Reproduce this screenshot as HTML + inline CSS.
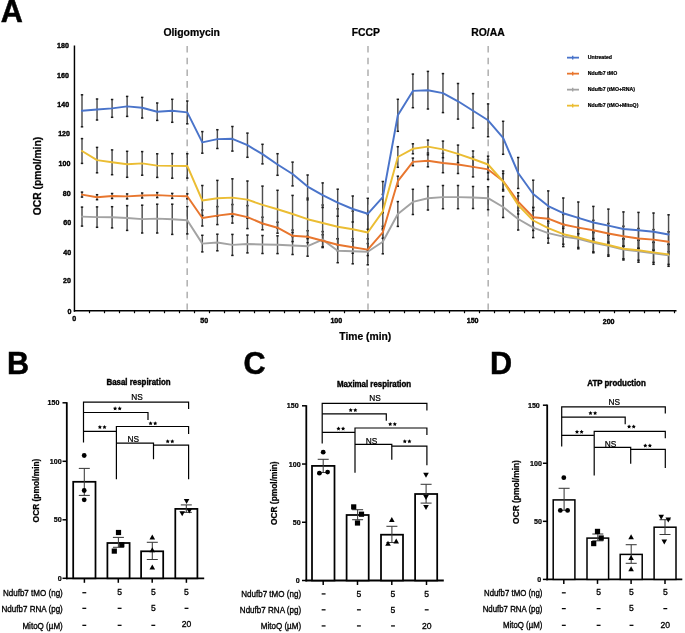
<!DOCTYPE html>
<html><head><meta charset="utf-8"><style>
html,body{margin:0;padding:0;background:#fff;}
svg{display:block;will-change:transform;}
text{font-family:"Liberation Sans", sans-serif;fill:#000;stroke:#000;stroke-width:0.22px;}
</style></head><body>
<svg width="685" height="633" viewBox="0 0 685 633">
<rect width="685" height="633" fill="#fff"/>
<text x="0.8" y="22.3" font-size="30.6" font-weight="bold" text-anchor="start" style="stroke-width:0.5px">A</text>
<line x1="74.45" y1="45.6" x2="74.45" y2="311.7" stroke="#000" stroke-width="1.45" />
<line x1="73.8" y1="310.8" x2="676.5" y2="310.8" stroke="#000" stroke-width="1.6" />
<line x1="89.5" y1="311" x2="89.5" y2="313.2" stroke="#000" stroke-width="1.2" />
<line x1="104.5" y1="311" x2="104.5" y2="313.2" stroke="#000" stroke-width="1.2" />
<line x1="119.5" y1="311" x2="119.5" y2="313.2" stroke="#000" stroke-width="1.2" />
<line x1="134.5" y1="311" x2="134.5" y2="313.2" stroke="#000" stroke-width="1.2" />
<line x1="149.5" y1="311" x2="149.5" y2="313.2" stroke="#000" stroke-width="1.2" />
<line x1="164.5" y1="311" x2="164.5" y2="313.2" stroke="#000" stroke-width="1.2" />
<line x1="179.5" y1="311" x2="179.5" y2="313.2" stroke="#000" stroke-width="1.2" />
<line x1="194.5" y1="311" x2="194.5" y2="313.2" stroke="#000" stroke-width="1.2" />
<line x1="209.5" y1="311" x2="209.5" y2="313.2" stroke="#000" stroke-width="1.2" />
<line x1="224.5" y1="311" x2="224.5" y2="313.2" stroke="#000" stroke-width="1.2" />
<line x1="239.5" y1="311" x2="239.5" y2="313.2" stroke="#000" stroke-width="1.2" />
<line x1="254.5" y1="311" x2="254.5" y2="313.2" stroke="#000" stroke-width="1.2" />
<line x1="269.5" y1="311" x2="269.5" y2="313.2" stroke="#000" stroke-width="1.2" />
<line x1="284.5" y1="311" x2="284.5" y2="313.2" stroke="#000" stroke-width="1.2" />
<line x1="299.5" y1="311" x2="299.5" y2="313.2" stroke="#000" stroke-width="1.2" />
<line x1="314.5" y1="311" x2="314.5" y2="313.2" stroke="#000" stroke-width="1.2" />
<line x1="329.5" y1="311" x2="329.5" y2="313.2" stroke="#000" stroke-width="1.2" />
<line x1="344.5" y1="311" x2="344.5" y2="313.2" stroke="#000" stroke-width="1.2" />
<line x1="359.5" y1="311" x2="359.5" y2="313.2" stroke="#000" stroke-width="1.2" />
<line x1="374.5" y1="311" x2="374.5" y2="313.2" stroke="#000" stroke-width="1.2" />
<line x1="389.5" y1="311" x2="389.5" y2="313.2" stroke="#000" stroke-width="1.2" />
<line x1="404.5" y1="311" x2="404.5" y2="313.2" stroke="#000" stroke-width="1.2" />
<line x1="419.5" y1="311" x2="419.5" y2="313.2" stroke="#000" stroke-width="1.2" />
<line x1="434.5" y1="311" x2="434.5" y2="313.2" stroke="#000" stroke-width="1.2" />
<line x1="449.5" y1="311" x2="449.5" y2="313.2" stroke="#000" stroke-width="1.2" />
<line x1="464.5" y1="311" x2="464.5" y2="313.2" stroke="#000" stroke-width="1.2" />
<line x1="479.5" y1="311" x2="479.5" y2="313.2" stroke="#000" stroke-width="1.2" />
<line x1="494.5" y1="311" x2="494.5" y2="313.2" stroke="#000" stroke-width="1.2" />
<line x1="509.5" y1="311" x2="509.5" y2="313.2" stroke="#000" stroke-width="1.2" />
<line x1="524.5" y1="311" x2="524.5" y2="313.2" stroke="#000" stroke-width="1.2" />
<line x1="539.5" y1="311" x2="539.5" y2="313.2" stroke="#000" stroke-width="1.2" />
<line x1="554.5" y1="311" x2="554.5" y2="313.2" stroke="#000" stroke-width="1.2" />
<line x1="569.5" y1="311" x2="569.5" y2="313.2" stroke="#000" stroke-width="1.2" />
<line x1="584.5" y1="311" x2="584.5" y2="313.2" stroke="#000" stroke-width="1.2" />
<line x1="599.5" y1="311" x2="599.5" y2="313.2" stroke="#000" stroke-width="1.2" />
<line x1="614.5" y1="311" x2="614.5" y2="313.2" stroke="#000" stroke-width="1.2" />
<line x1="629.5" y1="311" x2="629.5" y2="313.2" stroke="#000" stroke-width="1.2" />
<line x1="644.5" y1="311" x2="644.5" y2="313.2" stroke="#000" stroke-width="1.2" />
<line x1="659.5" y1="311" x2="659.5" y2="313.2" stroke="#000" stroke-width="1.2" />
<line x1="674.5" y1="311" x2="674.5" y2="313.2" stroke="#000" stroke-width="1.2" />
<text x="0" y="0" font-size="7.1" font-weight="bold" text-anchor="end" transform="translate(71.4,313.9) scale(1,1.12)" style="stroke-width:0.38px">0</text>
<text x="0" y="0" font-size="7.1" font-weight="bold" text-anchor="end" transform="translate(71.0,283.25) scale(1,1.12)" style="stroke-width:0.38px">20</text>
<text x="0" y="0" font-size="7.1" font-weight="bold" text-anchor="end" transform="translate(71.1,254.55) scale(1,1.12)" style="stroke-width:0.38px">40</text>
<text x="0" y="0" font-size="7.1" font-weight="bold" text-anchor="end" transform="translate(71.1,224.95) scale(1,1.12)" style="stroke-width:0.38px">60</text>
<text x="0" y="0" font-size="7.1" font-weight="bold" text-anchor="end" transform="translate(70.7,195.95) scale(1,1.12)" style="stroke-width:0.38px">80</text>
<text x="0" y="0" font-size="7.1" font-weight="bold" text-anchor="end" transform="translate(70.4,166.25) scale(1,1.12)" style="stroke-width:0.38px">100</text>
<text x="0" y="0" font-size="7.1" font-weight="bold" text-anchor="end" transform="translate(70.0,136.35) scale(1,1.12)" style="stroke-width:0.38px">120</text>
<text x="0" y="0" font-size="7.1" font-weight="bold" text-anchor="end" transform="translate(69.1,107.15) scale(1,1.12)" style="stroke-width:0.38px">140</text>
<text x="0" y="0" font-size="7.1" font-weight="bold" text-anchor="end" transform="translate(68.9,77.95) scale(1,1.12)" style="stroke-width:0.38px">160</text>
<text x="0" y="0" font-size="7.1" font-weight="bold" text-anchor="end" transform="translate(68.9,48.15) scale(1,1.12)" style="stroke-width:0.38px">180</text>
<text x="0" y="0" font-size="7.1" font-weight="bold" text-anchor="middle" transform="translate(74.1,321.3) scale(1,1.12)" style="stroke-width:0.38px">0</text>
<text x="0" y="0" font-size="7.1" font-weight="bold" text-anchor="middle" transform="translate(204.3,323.4) scale(1,1.12)" style="stroke-width:0.38px">50</text>
<text x="0" y="0" font-size="7.1" font-weight="bold" text-anchor="middle" transform="translate(336.3,323.4) scale(1,1.12)" style="stroke-width:0.38px">100</text>
<text x="0" y="0" font-size="7.1" font-weight="bold" text-anchor="middle" transform="translate(472.6,323.4) scale(1,1.12)" style="stroke-width:0.38px">150</text>
<text x="0" y="0" font-size="7.1" font-weight="bold" text-anchor="middle" transform="translate(608.6,323.55) scale(1,1.12)" style="stroke-width:0.38px">200</text>
<text x="365.3" y="340.4" font-size="10.3" font-weight="bold" text-anchor="middle" >Time (min)</text>
<text x="0" y="0" font-size="10.3" font-weight="bold" text-anchor="middle" transform="translate(40.9,176) rotate(-90)">OCR (pmol/min)</text>
<line x1="187.2" y1="46" x2="187.2" y2="309.8" stroke="#b4b4b4" stroke-width="1.6" stroke-dasharray="6.6,5.1"/>
<line x1="368" y1="46" x2="368" y2="309.8" stroke="#b4b4b4" stroke-width="1.6" stroke-dasharray="6.6,5.1"/>
<line x1="488.2" y1="46" x2="488.2" y2="309.8" stroke="#b4b4b4" stroke-width="1.6" stroke-dasharray="6.6,5.1"/>
<text x="191.7" y="36" font-size="10.4" font-weight="bold" text-anchor="middle" >Oligomycin</text>
<text x="365.9" y="36" font-size="10.4" font-weight="bold" text-anchor="middle" >FCCP</text>
<text x="488" y="36" font-size="10.4" font-weight="bold" text-anchor="middle" >RO/AA</text>
<line x1="82.0" y1="207.1" x2="82.0" y2="226.1" stroke="#4e4e4e" stroke-width="1.45" />
<line x1="80.8" y1="207.1" x2="83.2" y2="207.1" stroke="#1a1a1a" stroke-width="1.5" />
<line x1="80.8" y1="226.1" x2="83.2" y2="226.1" stroke="#1a1a1a" stroke-width="1.5" />
<line x1="97.04" y1="206.9" x2="97.04" y2="227.3" stroke="#4e4e4e" stroke-width="1.45" />
<line x1="95.84" y1="206.9" x2="98.24" y2="206.9" stroke="#1a1a1a" stroke-width="1.5" />
<line x1="95.84" y1="227.3" x2="98.24" y2="227.3" stroke="#1a1a1a" stroke-width="1.5" />
<line x1="112.08" y1="206.7" x2="112.08" y2="227.9" stroke="#4e4e4e" stroke-width="1.45" />
<line x1="110.88" y1="206.7" x2="113.28" y2="206.7" stroke="#1a1a1a" stroke-width="1.5" />
<line x1="110.88" y1="227.9" x2="113.28" y2="227.9" stroke="#1a1a1a" stroke-width="1.5" />
<line x1="127.12" y1="205.6" x2="127.12" y2="230.4" stroke="#4e4e4e" stroke-width="1.45" />
<line x1="125.92" y1="205.6" x2="128.32" y2="205.6" stroke="#1a1a1a" stroke-width="1.5" />
<line x1="125.92" y1="230.4" x2="128.32" y2="230.4" stroke="#1a1a1a" stroke-width="1.5" />
<line x1="142.16" y1="205.2" x2="142.16" y2="233.0" stroke="#4e4e4e" stroke-width="1.45" />
<line x1="140.96" y1="205.2" x2="143.36" y2="205.2" stroke="#1a1a1a" stroke-width="1.5" />
<line x1="140.96" y1="233.0" x2="143.36" y2="233.0" stroke="#1a1a1a" stroke-width="1.5" />
<line x1="157.2" y1="204.2" x2="157.2" y2="233.0" stroke="#4e4e4e" stroke-width="1.45" />
<line x1="156.0" y1="204.2" x2="158.4" y2="204.2" stroke="#1a1a1a" stroke-width="1.5" />
<line x1="156.0" y1="233.0" x2="158.4" y2="233.0" stroke="#1a1a1a" stroke-width="1.5" />
<line x1="172.24" y1="204.2" x2="172.24" y2="234.4" stroke="#4e4e4e" stroke-width="1.45" />
<line x1="171.04" y1="204.2" x2="173.44" y2="204.2" stroke="#1a1a1a" stroke-width="1.5" />
<line x1="171.04" y1="234.4" x2="173.44" y2="234.4" stroke="#1a1a1a" stroke-width="1.5" />
<line x1="187.28" y1="206.5" x2="187.28" y2="233.9" stroke="#4e4e4e" stroke-width="1.45" />
<line x1="186.08" y1="206.5" x2="188.48" y2="206.5" stroke="#1a1a1a" stroke-width="1.5" />
<line x1="186.08" y1="233.9" x2="188.48" y2="233.9" stroke="#1a1a1a" stroke-width="1.5" />
<line x1="202.32" y1="235.3" x2="202.32" y2="251.9" stroke="#4e4e4e" stroke-width="1.45" />
<line x1="201.12" y1="235.3" x2="203.52" y2="235.3" stroke="#1a1a1a" stroke-width="1.5" />
<line x1="201.12" y1="251.9" x2="203.52" y2="251.9" stroke="#1a1a1a" stroke-width="1.5" />
<line x1="217.36" y1="234.2" x2="217.36" y2="250.8" stroke="#4e4e4e" stroke-width="1.45" />
<line x1="216.16" y1="234.2" x2="218.56" y2="234.2" stroke="#1a1a1a" stroke-width="1.5" />
<line x1="216.16" y1="250.8" x2="218.56" y2="250.8" stroke="#1a1a1a" stroke-width="1.5" />
<line x1="232.4" y1="234.4" x2="232.4" y2="255.4" stroke="#4e4e4e" stroke-width="1.45" />
<line x1="231.2" y1="234.4" x2="233.6" y2="234.4" stroke="#1a1a1a" stroke-width="1.5" />
<line x1="231.2" y1="255.4" x2="233.6" y2="255.4" stroke="#1a1a1a" stroke-width="1.5" />
<line x1="247.44" y1="235.1" x2="247.44" y2="252.9" stroke="#4e4e4e" stroke-width="1.45" />
<line x1="246.24" y1="235.1" x2="248.64" y2="235.1" stroke="#1a1a1a" stroke-width="1.5" />
<line x1="246.24" y1="252.9" x2="248.64" y2="252.9" stroke="#1a1a1a" stroke-width="1.5" />
<line x1="262.48" y1="235.5" x2="262.48" y2="253.5" stroke="#4e4e4e" stroke-width="1.45" />
<line x1="261.28" y1="235.5" x2="263.68" y2="235.5" stroke="#1a1a1a" stroke-width="1.5" />
<line x1="261.28" y1="253.5" x2="263.68" y2="253.5" stroke="#1a1a1a" stroke-width="1.5" />
<line x1="277.52" y1="235.8" x2="277.52" y2="253.6" stroke="#4e4e4e" stroke-width="1.45" />
<line x1="276.32" y1="235.8" x2="278.72" y2="235.8" stroke="#1a1a1a" stroke-width="1.5" />
<line x1="276.32" y1="253.6" x2="278.72" y2="253.6" stroke="#1a1a1a" stroke-width="1.5" />
<line x1="292.56" y1="236.5" x2="292.56" y2="254.5" stroke="#4e4e4e" stroke-width="1.45" />
<line x1="291.36" y1="236.5" x2="293.76" y2="236.5" stroke="#1a1a1a" stroke-width="1.5" />
<line x1="291.36" y1="254.5" x2="293.76" y2="254.5" stroke="#1a1a1a" stroke-width="1.5" />
<line x1="307.6" y1="236.2" x2="307.6" y2="256.2" stroke="#4e4e4e" stroke-width="1.45" />
<line x1="306.4" y1="236.2" x2="308.8" y2="236.2" stroke="#1a1a1a" stroke-width="1.5" />
<line x1="306.4" y1="256.2" x2="308.8" y2="256.2" stroke="#1a1a1a" stroke-width="1.5" />
<line x1="322.64" y1="231.6" x2="322.64" y2="247.6" stroke="#4e4e4e" stroke-width="1.45" />
<line x1="321.44" y1="231.6" x2="323.84" y2="231.6" stroke="#1a1a1a" stroke-width="1.5" />
<line x1="321.44" y1="247.6" x2="323.84" y2="247.6" stroke="#1a1a1a" stroke-width="1.5" />
<line x1="337.68" y1="238.7" x2="337.68" y2="262.7" stroke="#4e4e4e" stroke-width="1.45" />
<line x1="336.48" y1="238.7" x2="338.88" y2="238.7" stroke="#1a1a1a" stroke-width="1.5" />
<line x1="336.48" y1="262.7" x2="338.88" y2="262.7" stroke="#1a1a1a" stroke-width="1.5" />
<line x1="352.72" y1="238.8" x2="352.72" y2="263.8" stroke="#4e4e4e" stroke-width="1.45" />
<line x1="351.52" y1="238.8" x2="353.92" y2="238.8" stroke="#1a1a1a" stroke-width="1.5" />
<line x1="351.52" y1="263.8" x2="353.92" y2="263.8" stroke="#1a1a1a" stroke-width="1.5" />
<line x1="367.76" y1="238.8" x2="367.76" y2="264.8" stroke="#4e4e4e" stroke-width="1.45" />
<line x1="366.56" y1="238.8" x2="368.96" y2="238.8" stroke="#1a1a1a" stroke-width="1.5" />
<line x1="366.56" y1="264.8" x2="368.96" y2="264.8" stroke="#1a1a1a" stroke-width="1.5" />
<line x1="382.8" y1="229.8" x2="382.8" y2="253.8" stroke="#4e4e4e" stroke-width="1.45" />
<line x1="381.6" y1="229.8" x2="384.0" y2="229.8" stroke="#1a1a1a" stroke-width="1.5" />
<line x1="381.6" y1="253.8" x2="384.0" y2="253.8" stroke="#1a1a1a" stroke-width="1.5" />
<line x1="397.84" y1="201.6" x2="397.84" y2="226.4" stroke="#4e4e4e" stroke-width="1.45" />
<line x1="396.64" y1="201.6" x2="399.04" y2="201.6" stroke="#1a1a1a" stroke-width="1.5" />
<line x1="396.64" y1="226.4" x2="399.04" y2="226.4" stroke="#1a1a1a" stroke-width="1.5" />
<line x1="412.88" y1="189.3" x2="412.88" y2="214.5" stroke="#4e4e4e" stroke-width="1.45" />
<line x1="411.68" y1="189.3" x2="414.08" y2="189.3" stroke="#1a1a1a" stroke-width="1.5" />
<line x1="411.68" y1="214.5" x2="414.08" y2="214.5" stroke="#1a1a1a" stroke-width="1.5" />
<line x1="427.92" y1="186.4" x2="427.92" y2="210.0" stroke="#4e4e4e" stroke-width="1.45" />
<line x1="426.72" y1="186.4" x2="429.12" y2="186.4" stroke="#1a1a1a" stroke-width="1.5" />
<line x1="426.72" y1="210.0" x2="429.12" y2="210.0" stroke="#1a1a1a" stroke-width="1.5" />
<line x1="442.96" y1="185.5" x2="442.96" y2="208.7" stroke="#4e4e4e" stroke-width="1.45" />
<line x1="441.76" y1="185.5" x2="444.16" y2="185.5" stroke="#1a1a1a" stroke-width="1.5" />
<line x1="441.76" y1="208.7" x2="444.16" y2="208.7" stroke="#1a1a1a" stroke-width="1.5" />
<line x1="458.0" y1="185.5" x2="458.0" y2="208.7" stroke="#4e4e4e" stroke-width="1.45" />
<line x1="456.8" y1="185.5" x2="459.2" y2="185.5" stroke="#1a1a1a" stroke-width="1.5" />
<line x1="456.8" y1="208.7" x2="459.2" y2="208.7" stroke="#1a1a1a" stroke-width="1.5" />
<line x1="473.04" y1="186.5" x2="473.04" y2="208.5" stroke="#4e4e4e" stroke-width="1.45" />
<line x1="471.84" y1="186.5" x2="474.24" y2="186.5" stroke="#1a1a1a" stroke-width="1.5" />
<line x1="471.84" y1="208.5" x2="474.24" y2="208.5" stroke="#1a1a1a" stroke-width="1.5" />
<line x1="488.08" y1="186.7" x2="488.08" y2="209.7" stroke="#4e4e4e" stroke-width="1.45" />
<line x1="486.88" y1="186.7" x2="489.28" y2="186.7" stroke="#1a1a1a" stroke-width="1.5" />
<line x1="486.88" y1="209.7" x2="489.28" y2="209.7" stroke="#1a1a1a" stroke-width="1.5" />
<line x1="503.12" y1="196.5" x2="503.12" y2="217.5" stroke="#4e4e4e" stroke-width="1.45" />
<line x1="501.92" y1="196.5" x2="504.32" y2="196.5" stroke="#1a1a1a" stroke-width="1.5" />
<line x1="501.92" y1="217.5" x2="504.32" y2="217.5" stroke="#1a1a1a" stroke-width="1.5" />
<line x1="518.16" y1="208" x2="518.16" y2="230" stroke="#4e4e4e" stroke-width="1.45" />
<line x1="516.96" y1="208" x2="519.36" y2="208" stroke="#1a1a1a" stroke-width="1.5" />
<line x1="516.96" y1="230" x2="519.36" y2="230" stroke="#1a1a1a" stroke-width="1.5" />
<line x1="533.2" y1="217.6" x2="533.2" y2="237.6" stroke="#4e4e4e" stroke-width="1.45" />
<line x1="532.0" y1="217.6" x2="534.4" y2="217.6" stroke="#1a1a1a" stroke-width="1.5" />
<line x1="532.0" y1="237.6" x2="534.4" y2="237.6" stroke="#1a1a1a" stroke-width="1.5" />
<line x1="548.24" y1="223.1" x2="548.24" y2="243.1" stroke="#4e4e4e" stroke-width="1.45" />
<line x1="547.04" y1="223.1" x2="549.44" y2="223.1" stroke="#1a1a1a" stroke-width="1.5" />
<line x1="547.04" y1="243.1" x2="549.44" y2="243.1" stroke="#1a1a1a" stroke-width="1.5" />
<line x1="563.28" y1="226.6" x2="563.28" y2="246.6" stroke="#4e4e4e" stroke-width="1.45" />
<line x1="562.08" y1="226.6" x2="564.48" y2="226.6" stroke="#1a1a1a" stroke-width="1.5" />
<line x1="562.08" y1="246.6" x2="564.48" y2="246.6" stroke="#1a1a1a" stroke-width="1.5" />
<line x1="578.32" y1="228.8" x2="578.32" y2="248.8" stroke="#4e4e4e" stroke-width="1.45" />
<line x1="577.12" y1="228.8" x2="579.52" y2="228.8" stroke="#1a1a1a" stroke-width="1.5" />
<line x1="577.12" y1="248.8" x2="579.52" y2="248.8" stroke="#1a1a1a" stroke-width="1.5" />
<line x1="593.36" y1="232.8" x2="593.36" y2="252.8" stroke="#4e4e4e" stroke-width="1.45" />
<line x1="592.16" y1="232.8" x2="594.56" y2="232.8" stroke="#1a1a1a" stroke-width="1.5" />
<line x1="592.16" y1="252.8" x2="594.56" y2="252.8" stroke="#1a1a1a" stroke-width="1.5" />
<line x1="608.4" y1="235.3" x2="608.4" y2="256.3" stroke="#4e4e4e" stroke-width="1.45" />
<line x1="607.2" y1="235.3" x2="609.6" y2="235.3" stroke="#1a1a1a" stroke-width="1.5" />
<line x1="607.2" y1="256.3" x2="609.6" y2="256.3" stroke="#1a1a1a" stroke-width="1.5" />
<line x1="623.44" y1="239.0" x2="623.44" y2="260.0" stroke="#4e4e4e" stroke-width="1.45" />
<line x1="622.24" y1="239.0" x2="624.64" y2="239.0" stroke="#1a1a1a" stroke-width="1.5" />
<line x1="622.24" y1="260.0" x2="624.64" y2="260.0" stroke="#1a1a1a" stroke-width="1.5" />
<line x1="638.48" y1="240.2" x2="638.48" y2="262.2" stroke="#4e4e4e" stroke-width="1.45" />
<line x1="637.28" y1="240.2" x2="639.68" y2="240.2" stroke="#1a1a1a" stroke-width="1.5" />
<line x1="637.28" y1="262.2" x2="639.68" y2="262.2" stroke="#1a1a1a" stroke-width="1.5" />
<line x1="653.52" y1="242.3" x2="653.52" y2="264.3" stroke="#4e4e4e" stroke-width="1.45" />
<line x1="652.32" y1="242.3" x2="654.72" y2="242.3" stroke="#1a1a1a" stroke-width="1.5" />
<line x1="652.32" y1="264.3" x2="654.72" y2="264.3" stroke="#1a1a1a" stroke-width="1.5" />
<line x1="668.56" y1="244.3" x2="668.56" y2="266.3" stroke="#4e4e4e" stroke-width="1.45" />
<line x1="667.36" y1="244.3" x2="669.76" y2="244.3" stroke="#1a1a1a" stroke-width="1.5" />
<line x1="667.36" y1="266.3" x2="669.76" y2="266.3" stroke="#1a1a1a" stroke-width="1.5" />
<line x1="82.0" y1="192.1" x2="82.0" y2="197.1" stroke="#4e4e4e" stroke-width="1.45" />
<line x1="80.8" y1="192.1" x2="83.2" y2="192.1" stroke="#1a1a1a" stroke-width="1.5" />
<line x1="80.8" y1="197.1" x2="83.2" y2="197.1" stroke="#1a1a1a" stroke-width="1.5" />
<line x1="97.04" y1="194.7" x2="97.04" y2="199.7" stroke="#4e4e4e" stroke-width="1.45" />
<line x1="95.84" y1="194.7" x2="98.24" y2="194.7" stroke="#1a1a1a" stroke-width="1.5" />
<line x1="95.84" y1="199.7" x2="98.24" y2="199.7" stroke="#1a1a1a" stroke-width="1.5" />
<line x1="112.08" y1="193.5" x2="112.08" y2="198.5" stroke="#4e4e4e" stroke-width="1.45" />
<line x1="110.88" y1="193.5" x2="113.28" y2="193.5" stroke="#1a1a1a" stroke-width="1.5" />
<line x1="110.88" y1="198.5" x2="113.28" y2="198.5" stroke="#1a1a1a" stroke-width="1.5" />
<line x1="127.12" y1="193.9" x2="127.12" y2="198.9" stroke="#4e4e4e" stroke-width="1.45" />
<line x1="125.92" y1="193.9" x2="128.32" y2="193.9" stroke="#1a1a1a" stroke-width="1.5" />
<line x1="125.92" y1="198.9" x2="128.32" y2="198.9" stroke="#1a1a1a" stroke-width="1.5" />
<line x1="142.16" y1="193.0" x2="142.16" y2="198.0" stroke="#4e4e4e" stroke-width="1.45" />
<line x1="140.96" y1="193.0" x2="143.36" y2="193.0" stroke="#1a1a1a" stroke-width="1.5" />
<line x1="140.96" y1="198.0" x2="143.36" y2="198.0" stroke="#1a1a1a" stroke-width="1.5" />
<line x1="157.2" y1="192.6" x2="157.2" y2="197.6" stroke="#4e4e4e" stroke-width="1.45" />
<line x1="156.0" y1="192.6" x2="158.4" y2="192.6" stroke="#1a1a1a" stroke-width="1.5" />
<line x1="156.0" y1="197.6" x2="158.4" y2="197.6" stroke="#1a1a1a" stroke-width="1.5" />
<line x1="172.24" y1="193.4" x2="172.24" y2="198.4" stroke="#4e4e4e" stroke-width="1.45" />
<line x1="171.04" y1="193.4" x2="173.44" y2="193.4" stroke="#1a1a1a" stroke-width="1.5" />
<line x1="171.04" y1="198.4" x2="173.44" y2="198.4" stroke="#1a1a1a" stroke-width="1.5" />
<line x1="187.28" y1="193.8" x2="187.28" y2="198.8" stroke="#4e4e4e" stroke-width="1.45" />
<line x1="186.08" y1="193.8" x2="188.48" y2="193.8" stroke="#1a1a1a" stroke-width="1.5" />
<line x1="186.08" y1="198.8" x2="188.48" y2="198.8" stroke="#1a1a1a" stroke-width="1.5" />
<line x1="202.32" y1="210" x2="202.32" y2="226" stroke="#4e4e4e" stroke-width="1.45" />
<line x1="201.12" y1="210" x2="203.52" y2="210" stroke="#1a1a1a" stroke-width="1.5" />
<line x1="201.12" y1="226" x2="203.52" y2="226" stroke="#1a1a1a" stroke-width="1.5" />
<line x1="217.36" y1="206.6" x2="217.36" y2="224.6" stroke="#4e4e4e" stroke-width="1.45" />
<line x1="216.16" y1="206.6" x2="218.56" y2="206.6" stroke="#1a1a1a" stroke-width="1.5" />
<line x1="216.16" y1="224.6" x2="218.56" y2="224.6" stroke="#1a1a1a" stroke-width="1.5" />
<line x1="232.4" y1="204.5" x2="232.4" y2="223.1" stroke="#4e4e4e" stroke-width="1.45" />
<line x1="231.2" y1="204.5" x2="233.6" y2="204.5" stroke="#1a1a1a" stroke-width="1.5" />
<line x1="231.2" y1="223.1" x2="233.6" y2="223.1" stroke="#1a1a1a" stroke-width="1.5" />
<line x1="247.44" y1="205.6" x2="247.44" y2="228.6" stroke="#4e4e4e" stroke-width="1.45" />
<line x1="246.24" y1="205.6" x2="248.64" y2="205.6" stroke="#1a1a1a" stroke-width="1.5" />
<line x1="246.24" y1="228.6" x2="248.64" y2="228.6" stroke="#1a1a1a" stroke-width="1.5" />
<line x1="262.48" y1="217.2" x2="262.48" y2="229.8" stroke="#4e4e4e" stroke-width="1.45" />
<line x1="261.28" y1="217.2" x2="263.68" y2="217.2" stroke="#1a1a1a" stroke-width="1.5" />
<line x1="261.28" y1="229.8" x2="263.68" y2="229.8" stroke="#1a1a1a" stroke-width="1.5" />
<line x1="277.52" y1="222.2" x2="277.52" y2="233.2" stroke="#4e4e4e" stroke-width="1.45" />
<line x1="276.32" y1="222.2" x2="278.72" y2="222.2" stroke="#1a1a1a" stroke-width="1.5" />
<line x1="276.32" y1="233.2" x2="278.72" y2="233.2" stroke="#1a1a1a" stroke-width="1.5" />
<line x1="292.56" y1="230.0" x2="292.56" y2="241.6" stroke="#4e4e4e" stroke-width="1.45" />
<line x1="291.36" y1="230.0" x2="293.76" y2="230.0" stroke="#1a1a1a" stroke-width="1.5" />
<line x1="291.36" y1="241.6" x2="293.76" y2="241.6" stroke="#1a1a1a" stroke-width="1.5" />
<line x1="307.6" y1="230.7" x2="307.6" y2="242.7" stroke="#4e4e4e" stroke-width="1.45" />
<line x1="306.4" y1="230.7" x2="308.8" y2="230.7" stroke="#1a1a1a" stroke-width="1.5" />
<line x1="306.4" y1="242.7" x2="308.8" y2="242.7" stroke="#1a1a1a" stroke-width="1.5" />
<line x1="322.64" y1="234.7" x2="322.64" y2="246.7" stroke="#4e4e4e" stroke-width="1.45" />
<line x1="321.44" y1="234.7" x2="323.84" y2="234.7" stroke="#1a1a1a" stroke-width="1.5" />
<line x1="321.44" y1="246.7" x2="323.84" y2="246.7" stroke="#1a1a1a" stroke-width="1.5" />
<line x1="337.68" y1="238.7" x2="337.68" y2="250.7" stroke="#4e4e4e" stroke-width="1.45" />
<line x1="336.48" y1="238.7" x2="338.88" y2="238.7" stroke="#1a1a1a" stroke-width="1.5" />
<line x1="336.48" y1="250.7" x2="338.88" y2="250.7" stroke="#1a1a1a" stroke-width="1.5" />
<line x1="352.72" y1="241.3" x2="352.72" y2="253.3" stroke="#4e4e4e" stroke-width="1.45" />
<line x1="351.52" y1="241.3" x2="353.92" y2="241.3" stroke="#1a1a1a" stroke-width="1.5" />
<line x1="351.52" y1="253.3" x2="353.92" y2="253.3" stroke="#1a1a1a" stroke-width="1.5" />
<line x1="367.76" y1="243.6" x2="367.76" y2="255.6" stroke="#4e4e4e" stroke-width="1.45" />
<line x1="366.56" y1="243.6" x2="368.96" y2="243.6" stroke="#1a1a1a" stroke-width="1.5" />
<line x1="366.56" y1="255.6" x2="368.96" y2="255.6" stroke="#1a1a1a" stroke-width="1.5" />
<line x1="382.8" y1="226.3" x2="382.8" y2="238.3" stroke="#4e4e4e" stroke-width="1.45" />
<line x1="381.6" y1="226.3" x2="384.0" y2="226.3" stroke="#1a1a1a" stroke-width="1.5" />
<line x1="381.6" y1="238.3" x2="384.0" y2="238.3" stroke="#1a1a1a" stroke-width="1.5" />
<line x1="397.84" y1="176.2" x2="397.84" y2="186.2" stroke="#4e4e4e" stroke-width="1.45" />
<line x1="396.64" y1="176.2" x2="399.04" y2="176.2" stroke="#1a1a1a" stroke-width="1.5" />
<line x1="396.64" y1="186.2" x2="399.04" y2="186.2" stroke="#1a1a1a" stroke-width="1.5" />
<line x1="412.88" y1="158.1" x2="412.88" y2="165.7" stroke="#4e4e4e" stroke-width="1.45" />
<line x1="411.68" y1="158.1" x2="414.08" y2="158.1" stroke="#1a1a1a" stroke-width="1.5" />
<line x1="411.68" y1="165.7" x2="414.08" y2="165.7" stroke="#1a1a1a" stroke-width="1.5" />
<line x1="427.92" y1="154.8" x2="427.92" y2="166.8" stroke="#4e4e4e" stroke-width="1.45" />
<line x1="426.72" y1="154.8" x2="429.12" y2="154.8" stroke="#1a1a1a" stroke-width="1.5" />
<line x1="426.72" y1="166.8" x2="429.12" y2="166.8" stroke="#1a1a1a" stroke-width="1.5" />
<line x1="442.96" y1="153.3" x2="442.96" y2="172.7" stroke="#4e4e4e" stroke-width="1.45" />
<line x1="441.76" y1="153.3" x2="444.16" y2="153.3" stroke="#1a1a1a" stroke-width="1.5" />
<line x1="441.76" y1="172.7" x2="444.16" y2="172.7" stroke="#1a1a1a" stroke-width="1.5" />
<line x1="458.0" y1="155.5" x2="458.0" y2="173.5" stroke="#4e4e4e" stroke-width="1.45" />
<line x1="456.8" y1="155.5" x2="459.2" y2="155.5" stroke="#1a1a1a" stroke-width="1.5" />
<line x1="456.8" y1="173.5" x2="459.2" y2="173.5" stroke="#1a1a1a" stroke-width="1.5" />
<line x1="473.04" y1="156.9" x2="473.04" y2="176.9" stroke="#4e4e4e" stroke-width="1.45" />
<line x1="471.84" y1="156.9" x2="474.24" y2="156.9" stroke="#1a1a1a" stroke-width="1.5" />
<line x1="471.84" y1="176.9" x2="474.24" y2="176.9" stroke="#1a1a1a" stroke-width="1.5" />
<line x1="488.08" y1="159.4" x2="488.08" y2="179.4" stroke="#4e4e4e" stroke-width="1.45" />
<line x1="486.88" y1="159.4" x2="489.28" y2="159.4" stroke="#1a1a1a" stroke-width="1.5" />
<line x1="486.88" y1="179.4" x2="489.28" y2="179.4" stroke="#1a1a1a" stroke-width="1.5" />
<line x1="503.12" y1="171" x2="503.12" y2="191" stroke="#4e4e4e" stroke-width="1.45" />
<line x1="501.92" y1="171" x2="504.32" y2="171" stroke="#1a1a1a" stroke-width="1.5" />
<line x1="501.92" y1="191" x2="504.32" y2="191" stroke="#1a1a1a" stroke-width="1.5" />
<line x1="518.16" y1="192.7" x2="518.16" y2="210.7" stroke="#4e4e4e" stroke-width="1.45" />
<line x1="516.96" y1="192.7" x2="519.36" y2="192.7" stroke="#1a1a1a" stroke-width="1.5" />
<line x1="516.96" y1="210.7" x2="519.36" y2="210.7" stroke="#1a1a1a" stroke-width="1.5" />
<line x1="533.2" y1="207.2" x2="533.2" y2="227.2" stroke="#4e4e4e" stroke-width="1.45" />
<line x1="532.0" y1="207.2" x2="534.4" y2="207.2" stroke="#1a1a1a" stroke-width="1.5" />
<line x1="532.0" y1="227.2" x2="534.4" y2="227.2" stroke="#1a1a1a" stroke-width="1.5" />
<line x1="548.24" y1="208.7" x2="548.24" y2="228.7" stroke="#4e4e4e" stroke-width="1.45" />
<line x1="547.04" y1="208.7" x2="549.44" y2="208.7" stroke="#1a1a1a" stroke-width="1.5" />
<line x1="547.04" y1="228.7" x2="549.44" y2="228.7" stroke="#1a1a1a" stroke-width="1.5" />
<line x1="563.28" y1="214.5" x2="563.28" y2="234.5" stroke="#4e4e4e" stroke-width="1.45" />
<line x1="562.08" y1="214.5" x2="564.48" y2="214.5" stroke="#1a1a1a" stroke-width="1.5" />
<line x1="562.08" y1="234.5" x2="564.48" y2="234.5" stroke="#1a1a1a" stroke-width="1.5" />
<line x1="578.32" y1="217.6" x2="578.32" y2="237.6" stroke="#4e4e4e" stroke-width="1.45" />
<line x1="577.12" y1="217.6" x2="579.52" y2="217.6" stroke="#1a1a1a" stroke-width="1.5" />
<line x1="577.12" y1="237.6" x2="579.52" y2="237.6" stroke="#1a1a1a" stroke-width="1.5" />
<line x1="593.36" y1="220.3" x2="593.36" y2="240.3" stroke="#4e4e4e" stroke-width="1.45" />
<line x1="592.16" y1="220.3" x2="594.56" y2="220.3" stroke="#1a1a1a" stroke-width="1.5" />
<line x1="592.16" y1="240.3" x2="594.56" y2="240.3" stroke="#1a1a1a" stroke-width="1.5" />
<line x1="608.4" y1="223.5" x2="608.4" y2="243.5" stroke="#4e4e4e" stroke-width="1.45" />
<line x1="607.2" y1="223.5" x2="609.6" y2="223.5" stroke="#1a1a1a" stroke-width="1.5" />
<line x1="607.2" y1="243.5" x2="609.6" y2="243.5" stroke="#1a1a1a" stroke-width="1.5" />
<line x1="623.44" y1="226.2" x2="623.44" y2="246.2" stroke="#4e4e4e" stroke-width="1.45" />
<line x1="622.24" y1="226.2" x2="624.64" y2="226.2" stroke="#1a1a1a" stroke-width="1.5" />
<line x1="622.24" y1="246.2" x2="624.64" y2="246.2" stroke="#1a1a1a" stroke-width="1.5" />
<line x1="638.48" y1="228.5" x2="638.48" y2="248.5" stroke="#4e4e4e" stroke-width="1.45" />
<line x1="637.28" y1="228.5" x2="639.68" y2="228.5" stroke="#1a1a1a" stroke-width="1.5" />
<line x1="637.28" y1="248.5" x2="639.68" y2="248.5" stroke="#1a1a1a" stroke-width="1.5" />
<line x1="653.52" y1="229.6" x2="653.52" y2="249.6" stroke="#4e4e4e" stroke-width="1.45" />
<line x1="652.32" y1="229.6" x2="654.72" y2="229.6" stroke="#1a1a1a" stroke-width="1.5" />
<line x1="652.32" y1="249.6" x2="654.72" y2="249.6" stroke="#1a1a1a" stroke-width="1.5" />
<line x1="668.56" y1="231.8" x2="668.56" y2="251.8" stroke="#4e4e4e" stroke-width="1.45" />
<line x1="667.36" y1="231.8" x2="669.76" y2="231.8" stroke="#1a1a1a" stroke-width="1.5" />
<line x1="667.36" y1="251.8" x2="669.76" y2="251.8" stroke="#1a1a1a" stroke-width="1.5" />
<line x1="82.0" y1="138.6" x2="82.0" y2="163.4" stroke="#4e4e4e" stroke-width="1.45" />
<line x1="80.8" y1="138.6" x2="83.2" y2="138.6" stroke="#1a1a1a" stroke-width="1.5" />
<line x1="80.8" y1="163.4" x2="83.2" y2="163.4" stroke="#1a1a1a" stroke-width="1.5" />
<line x1="97.04" y1="147.4" x2="97.04" y2="172.8" stroke="#4e4e4e" stroke-width="1.45" />
<line x1="95.84" y1="147.4" x2="98.24" y2="147.4" stroke="#1a1a1a" stroke-width="1.5" />
<line x1="95.84" y1="172.8" x2="98.24" y2="172.8" stroke="#1a1a1a" stroke-width="1.5" />
<line x1="112.08" y1="149.9" x2="112.08" y2="174.7" stroke="#4e4e4e" stroke-width="1.45" />
<line x1="110.88" y1="149.9" x2="113.28" y2="149.9" stroke="#1a1a1a" stroke-width="1.5" />
<line x1="110.88" y1="174.7" x2="113.28" y2="174.7" stroke="#1a1a1a" stroke-width="1.5" />
<line x1="127.12" y1="151.3" x2="127.12" y2="177.3" stroke="#4e4e4e" stroke-width="1.45" />
<line x1="125.92" y1="151.3" x2="128.32" y2="151.3" stroke="#1a1a1a" stroke-width="1.5" />
<line x1="125.92" y1="177.3" x2="128.32" y2="177.3" stroke="#1a1a1a" stroke-width="1.5" />
<line x1="142.16" y1="151.6" x2="142.16" y2="175.2" stroke="#4e4e4e" stroke-width="1.45" />
<line x1="140.96" y1="151.6" x2="143.36" y2="151.6" stroke="#1a1a1a" stroke-width="1.5" />
<line x1="140.96" y1="175.2" x2="143.36" y2="175.2" stroke="#1a1a1a" stroke-width="1.5" />
<line x1="157.2" y1="153.8" x2="157.2" y2="177.4" stroke="#4e4e4e" stroke-width="1.45" />
<line x1="156.0" y1="153.8" x2="158.4" y2="153.8" stroke="#1a1a1a" stroke-width="1.5" />
<line x1="156.0" y1="177.4" x2="158.4" y2="177.4" stroke="#1a1a1a" stroke-width="1.5" />
<line x1="172.24" y1="153.6" x2="172.24" y2="178.2" stroke="#4e4e4e" stroke-width="1.45" />
<line x1="171.04" y1="153.6" x2="173.44" y2="153.6" stroke="#1a1a1a" stroke-width="1.5" />
<line x1="171.04" y1="178.2" x2="173.44" y2="178.2" stroke="#1a1a1a" stroke-width="1.5" />
<line x1="187.28" y1="153.7" x2="187.28" y2="178.1" stroke="#4e4e4e" stroke-width="1.45" />
<line x1="186.08" y1="153.7" x2="188.48" y2="153.7" stroke="#1a1a1a" stroke-width="1.5" />
<line x1="186.08" y1="178.1" x2="188.48" y2="178.1" stroke="#1a1a1a" stroke-width="1.5" />
<line x1="202.32" y1="185.5" x2="202.32" y2="215.5" stroke="#4e4e4e" stroke-width="1.45" />
<line x1="201.12" y1="185.5" x2="203.52" y2="185.5" stroke="#1a1a1a" stroke-width="1.5" />
<line x1="201.12" y1="215.5" x2="203.52" y2="215.5" stroke="#1a1a1a" stroke-width="1.5" />
<line x1="217.36" y1="180.4" x2="217.36" y2="216.2" stroke="#4e4e4e" stroke-width="1.45" />
<line x1="216.16" y1="180.4" x2="218.56" y2="180.4" stroke="#1a1a1a" stroke-width="1.5" />
<line x1="216.16" y1="216.2" x2="218.56" y2="216.2" stroke="#1a1a1a" stroke-width="1.5" />
<line x1="232.4" y1="178.8" x2="232.4" y2="216.4" stroke="#4e4e4e" stroke-width="1.45" />
<line x1="231.2" y1="178.8" x2="233.6" y2="178.8" stroke="#1a1a1a" stroke-width="1.5" />
<line x1="231.2" y1="216.4" x2="233.6" y2="216.4" stroke="#1a1a1a" stroke-width="1.5" />
<line x1="247.44" y1="181.0" x2="247.44" y2="218.2" stroke="#4e4e4e" stroke-width="1.45" />
<line x1="246.24" y1="181.0" x2="248.64" y2="181.0" stroke="#1a1a1a" stroke-width="1.5" />
<line x1="246.24" y1="218.2" x2="248.64" y2="218.2" stroke="#1a1a1a" stroke-width="1.5" />
<line x1="262.48" y1="186.1" x2="262.48" y2="223.7" stroke="#4e4e4e" stroke-width="1.45" />
<line x1="261.28" y1="186.1" x2="263.68" y2="186.1" stroke="#1a1a1a" stroke-width="1.5" />
<line x1="261.28" y1="223.7" x2="263.68" y2="223.7" stroke="#1a1a1a" stroke-width="1.5" />
<line x1="277.52" y1="190.3" x2="277.52" y2="228.3" stroke="#4e4e4e" stroke-width="1.45" />
<line x1="276.32" y1="190.3" x2="278.72" y2="190.3" stroke="#1a1a1a" stroke-width="1.5" />
<line x1="276.32" y1="228.3" x2="278.72" y2="228.3" stroke="#1a1a1a" stroke-width="1.5" />
<line x1="292.56" y1="195.4" x2="292.56" y2="232.6" stroke="#4e4e4e" stroke-width="1.45" />
<line x1="291.36" y1="195.4" x2="293.76" y2="195.4" stroke="#1a1a1a" stroke-width="1.5" />
<line x1="291.36" y1="232.6" x2="293.76" y2="232.6" stroke="#1a1a1a" stroke-width="1.5" />
<line x1="307.6" y1="199.8" x2="307.6" y2="238.6" stroke="#4e4e4e" stroke-width="1.45" />
<line x1="306.4" y1="199.8" x2="308.8" y2="199.8" stroke="#1a1a1a" stroke-width="1.5" />
<line x1="306.4" y1="238.6" x2="308.8" y2="238.6" stroke="#1a1a1a" stroke-width="1.5" />
<line x1="322.64" y1="205" x2="322.64" y2="241" stroke="#4e4e4e" stroke-width="1.45" />
<line x1="321.44" y1="205" x2="323.84" y2="205" stroke="#1a1a1a" stroke-width="1.5" />
<line x1="321.44" y1="241" x2="323.84" y2="241" stroke="#1a1a1a" stroke-width="1.5" />
<line x1="337.68" y1="208.8" x2="337.68" y2="244.8" stroke="#4e4e4e" stroke-width="1.45" />
<line x1="336.48" y1="208.8" x2="338.88" y2="208.8" stroke="#1a1a1a" stroke-width="1.5" />
<line x1="336.48" y1="244.8" x2="338.88" y2="244.8" stroke="#1a1a1a" stroke-width="1.5" />
<line x1="352.72" y1="211.2" x2="352.72" y2="247.2" stroke="#4e4e4e" stroke-width="1.45" />
<line x1="351.52" y1="211.2" x2="353.92" y2="211.2" stroke="#1a1a1a" stroke-width="1.5" />
<line x1="351.52" y1="247.2" x2="353.92" y2="247.2" stroke="#1a1a1a" stroke-width="1.5" />
<line x1="367.76" y1="214.5" x2="367.76" y2="250.5" stroke="#4e4e4e" stroke-width="1.45" />
<line x1="366.56" y1="214.5" x2="368.96" y2="214.5" stroke="#1a1a1a" stroke-width="1.5" />
<line x1="366.56" y1="250.5" x2="368.96" y2="250.5" stroke="#1a1a1a" stroke-width="1.5" />
<line x1="382.8" y1="194.4" x2="382.8" y2="228.4" stroke="#4e4e4e" stroke-width="1.45" />
<line x1="381.6" y1="194.4" x2="384.0" y2="194.4" stroke="#1a1a1a" stroke-width="1.5" />
<line x1="381.6" y1="228.4" x2="384.0" y2="228.4" stroke="#1a1a1a" stroke-width="1.5" />
<line x1="397.84" y1="146.7" x2="397.84" y2="167.3" stroke="#4e4e4e" stroke-width="1.45" />
<line x1="396.64" y1="146.7" x2="399.04" y2="146.7" stroke="#1a1a1a" stroke-width="1.5" />
<line x1="396.64" y1="167.3" x2="399.04" y2="167.3" stroke="#1a1a1a" stroke-width="1.5" />
<line x1="412.88" y1="143.8" x2="412.88" y2="153.8" stroke="#4e4e4e" stroke-width="1.45" />
<line x1="411.68" y1="143.8" x2="414.08" y2="143.8" stroke="#1a1a1a" stroke-width="1.5" />
<line x1="411.68" y1="153.8" x2="414.08" y2="153.8" stroke="#1a1a1a" stroke-width="1.5" />
<line x1="427.92" y1="140.1" x2="427.92" y2="153.1" stroke="#4e4e4e" stroke-width="1.45" />
<line x1="426.72" y1="140.1" x2="429.12" y2="140.1" stroke="#1a1a1a" stroke-width="1.5" />
<line x1="426.72" y1="153.1" x2="429.12" y2="153.1" stroke="#1a1a1a" stroke-width="1.5" />
<line x1="442.96" y1="141.1" x2="442.96" y2="157.7" stroke="#4e4e4e" stroke-width="1.45" />
<line x1="441.76" y1="141.1" x2="444.16" y2="141.1" stroke="#1a1a1a" stroke-width="1.5" />
<line x1="441.76" y1="157.7" x2="444.16" y2="157.7" stroke="#1a1a1a" stroke-width="1.5" />
<line x1="458.0" y1="145.1" x2="458.0" y2="162.7" stroke="#4e4e4e" stroke-width="1.45" />
<line x1="456.8" y1="145.1" x2="459.2" y2="145.1" stroke="#1a1a1a" stroke-width="1.5" />
<line x1="456.8" y1="162.7" x2="459.2" y2="162.7" stroke="#1a1a1a" stroke-width="1.5" />
<line x1="473.04" y1="151" x2="473.04" y2="167" stroke="#4e4e4e" stroke-width="1.45" />
<line x1="471.84" y1="151" x2="474.24" y2="151" stroke="#1a1a1a" stroke-width="1.5" />
<line x1="471.84" y1="167" x2="474.24" y2="167" stroke="#1a1a1a" stroke-width="1.5" />
<line x1="488.08" y1="156.2" x2="488.08" y2="172.8" stroke="#4e4e4e" stroke-width="1.45" />
<line x1="486.88" y1="156.2" x2="489.28" y2="156.2" stroke="#1a1a1a" stroke-width="1.5" />
<line x1="486.88" y1="172.8" x2="489.28" y2="172.8" stroke="#1a1a1a" stroke-width="1.5" />
<line x1="503.12" y1="173.5" x2="503.12" y2="189.5" stroke="#4e4e4e" stroke-width="1.45" />
<line x1="501.92" y1="173.5" x2="504.32" y2="173.5" stroke="#1a1a1a" stroke-width="1.5" />
<line x1="501.92" y1="189.5" x2="504.32" y2="189.5" stroke="#1a1a1a" stroke-width="1.5" />
<line x1="518.16" y1="196" x2="518.16" y2="214" stroke="#4e4e4e" stroke-width="1.45" />
<line x1="516.96" y1="196" x2="519.36" y2="196" stroke="#1a1a1a" stroke-width="1.5" />
<line x1="516.96" y1="214" x2="519.36" y2="214" stroke="#1a1a1a" stroke-width="1.5" />
<line x1="533.2" y1="210.5" x2="533.2" y2="230.5" stroke="#4e4e4e" stroke-width="1.45" />
<line x1="532.0" y1="210.5" x2="534.4" y2="210.5" stroke="#1a1a1a" stroke-width="1.5" />
<line x1="532.0" y1="230.5" x2="534.4" y2="230.5" stroke="#1a1a1a" stroke-width="1.5" />
<line x1="548.24" y1="218.2" x2="548.24" y2="238.2" stroke="#4e4e4e" stroke-width="1.45" />
<line x1="547.04" y1="218.2" x2="549.44" y2="218.2" stroke="#1a1a1a" stroke-width="1.5" />
<line x1="547.04" y1="238.2" x2="549.44" y2="238.2" stroke="#1a1a1a" stroke-width="1.5" />
<line x1="563.28" y1="224.2" x2="563.28" y2="244.2" stroke="#4e4e4e" stroke-width="1.45" />
<line x1="562.08" y1="224.2" x2="564.48" y2="224.2" stroke="#1a1a1a" stroke-width="1.5" />
<line x1="562.08" y1="244.2" x2="564.48" y2="244.2" stroke="#1a1a1a" stroke-width="1.5" />
<line x1="578.32" y1="227.5" x2="578.32" y2="247.5" stroke="#4e4e4e" stroke-width="1.45" />
<line x1="577.12" y1="227.5" x2="579.52" y2="227.5" stroke="#1a1a1a" stroke-width="1.5" />
<line x1="577.12" y1="247.5" x2="579.52" y2="247.5" stroke="#1a1a1a" stroke-width="1.5" />
<line x1="593.36" y1="231.8" x2="593.36" y2="251.8" stroke="#4e4e4e" stroke-width="1.45" />
<line x1="592.16" y1="231.8" x2="594.56" y2="231.8" stroke="#1a1a1a" stroke-width="1.5" />
<line x1="592.16" y1="251.8" x2="594.56" y2="251.8" stroke="#1a1a1a" stroke-width="1.5" />
<line x1="608.4" y1="235" x2="608.4" y2="255" stroke="#4e4e4e" stroke-width="1.45" />
<line x1="607.2" y1="235" x2="609.6" y2="235" stroke="#1a1a1a" stroke-width="1.5" />
<line x1="607.2" y1="255" x2="609.6" y2="255" stroke="#1a1a1a" stroke-width="1.5" />
<line x1="623.44" y1="238.8" x2="623.44" y2="258.8" stroke="#4e4e4e" stroke-width="1.45" />
<line x1="622.24" y1="238.8" x2="624.64" y2="238.8" stroke="#1a1a1a" stroke-width="1.5" />
<line x1="622.24" y1="258.8" x2="624.64" y2="258.8" stroke="#1a1a1a" stroke-width="1.5" />
<line x1="638.48" y1="240.2" x2="638.48" y2="260.2" stroke="#4e4e4e" stroke-width="1.45" />
<line x1="637.28" y1="240.2" x2="639.68" y2="240.2" stroke="#1a1a1a" stroke-width="1.5" />
<line x1="637.28" y1="260.2" x2="639.68" y2="260.2" stroke="#1a1a1a" stroke-width="1.5" />
<line x1="653.52" y1="242.4" x2="653.52" y2="262.4" stroke="#4e4e4e" stroke-width="1.45" />
<line x1="652.32" y1="242.4" x2="654.72" y2="242.4" stroke="#1a1a1a" stroke-width="1.5" />
<line x1="652.32" y1="262.4" x2="654.72" y2="262.4" stroke="#1a1a1a" stroke-width="1.5" />
<line x1="668.56" y1="244.4" x2="668.56" y2="264.4" stroke="#4e4e4e" stroke-width="1.45" />
<line x1="667.36" y1="244.4" x2="669.76" y2="244.4" stroke="#1a1a1a" stroke-width="1.5" />
<line x1="667.36" y1="264.4" x2="669.76" y2="264.4" stroke="#1a1a1a" stroke-width="1.5" />
<line x1="82.0" y1="94.8" x2="82.0" y2="126.8" stroke="#4e4e4e" stroke-width="1.45" />
<line x1="80.8" y1="94.8" x2="83.2" y2="94.8" stroke="#1a1a1a" stroke-width="1.5" />
<line x1="80.8" y1="126.8" x2="83.2" y2="126.8" stroke="#1a1a1a" stroke-width="1.5" />
<line x1="97.04" y1="99.0" x2="97.04" y2="120.0" stroke="#4e4e4e" stroke-width="1.45" />
<line x1="95.84" y1="99.0" x2="98.24" y2="99.0" stroke="#1a1a1a" stroke-width="1.5" />
<line x1="95.84" y1="120.0" x2="98.24" y2="120.0" stroke="#1a1a1a" stroke-width="1.5" />
<line x1="112.08" y1="99.5" x2="112.08" y2="117.3" stroke="#4e4e4e" stroke-width="1.45" />
<line x1="110.88" y1="99.5" x2="113.28" y2="99.5" stroke="#1a1a1a" stroke-width="1.5" />
<line x1="110.88" y1="117.3" x2="113.28" y2="117.3" stroke="#1a1a1a" stroke-width="1.5" />
<line x1="127.12" y1="96.4" x2="127.12" y2="116.4" stroke="#4e4e4e" stroke-width="1.45" />
<line x1="125.92" y1="96.4" x2="128.32" y2="96.4" stroke="#1a1a1a" stroke-width="1.5" />
<line x1="125.92" y1="116.4" x2="128.32" y2="116.4" stroke="#1a1a1a" stroke-width="1.5" />
<line x1="142.16" y1="97.4" x2="142.16" y2="118.0" stroke="#4e4e4e" stroke-width="1.45" />
<line x1="140.96" y1="97.4" x2="143.36" y2="97.4" stroke="#1a1a1a" stroke-width="1.5" />
<line x1="140.96" y1="118.0" x2="143.36" y2="118.0" stroke="#1a1a1a" stroke-width="1.5" />
<line x1="157.2" y1="103.0" x2="157.2" y2="120.4" stroke="#4e4e4e" stroke-width="1.45" />
<line x1="156.0" y1="103.0" x2="158.4" y2="103.0" stroke="#1a1a1a" stroke-width="1.5" />
<line x1="156.0" y1="120.4" x2="158.4" y2="120.4" stroke="#1a1a1a" stroke-width="1.5" />
<line x1="172.24" y1="99.3" x2="172.24" y2="122.3" stroke="#4e4e4e" stroke-width="1.45" />
<line x1="171.04" y1="99.3" x2="173.44" y2="99.3" stroke="#1a1a1a" stroke-width="1.5" />
<line x1="171.04" y1="122.3" x2="173.44" y2="122.3" stroke="#1a1a1a" stroke-width="1.5" />
<line x1="187.28" y1="101.0" x2="187.28" y2="123.8" stroke="#4e4e4e" stroke-width="1.45" />
<line x1="186.08" y1="101.0" x2="188.48" y2="101.0" stroke="#1a1a1a" stroke-width="1.5" />
<line x1="186.08" y1="123.8" x2="188.48" y2="123.8" stroke="#1a1a1a" stroke-width="1.5" />
<line x1="202.32" y1="131.6" x2="202.32" y2="153.2" stroke="#4e4e4e" stroke-width="1.45" />
<line x1="201.12" y1="131.6" x2="203.52" y2="131.6" stroke="#1a1a1a" stroke-width="1.5" />
<line x1="201.12" y1="153.2" x2="203.52" y2="153.2" stroke="#1a1a1a" stroke-width="1.5" />
<line x1="217.36" y1="129.7" x2="217.36" y2="148.5" stroke="#4e4e4e" stroke-width="1.45" />
<line x1="216.16" y1="129.7" x2="218.56" y2="129.7" stroke="#1a1a1a" stroke-width="1.5" />
<line x1="216.16" y1="148.5" x2="218.56" y2="148.5" stroke="#1a1a1a" stroke-width="1.5" />
<line x1="232.4" y1="126.5" x2="232.4" y2="151.1" stroke="#4e4e4e" stroke-width="1.45" />
<line x1="231.2" y1="126.5" x2="233.6" y2="126.5" stroke="#1a1a1a" stroke-width="1.5" />
<line x1="231.2" y1="151.1" x2="233.6" y2="151.1" stroke="#1a1a1a" stroke-width="1.5" />
<line x1="247.44" y1="133.1" x2="247.44" y2="157.3" stroke="#4e4e4e" stroke-width="1.45" />
<line x1="246.24" y1="133.1" x2="248.64" y2="133.1" stroke="#1a1a1a" stroke-width="1.5" />
<line x1="246.24" y1="157.3" x2="248.64" y2="157.3" stroke="#1a1a1a" stroke-width="1.5" />
<line x1="262.48" y1="144.3" x2="262.48" y2="163.9" stroke="#4e4e4e" stroke-width="1.45" />
<line x1="261.28" y1="144.3" x2="263.68" y2="144.3" stroke="#1a1a1a" stroke-width="1.5" />
<line x1="261.28" y1="163.9" x2="263.68" y2="163.9" stroke="#1a1a1a" stroke-width="1.5" />
<line x1="277.52" y1="153.7" x2="277.52" y2="175.3" stroke="#4e4e4e" stroke-width="1.45" />
<line x1="276.32" y1="153.7" x2="278.72" y2="153.7" stroke="#1a1a1a" stroke-width="1.5" />
<line x1="276.32" y1="175.3" x2="278.72" y2="175.3" stroke="#1a1a1a" stroke-width="1.5" />
<line x1="292.56" y1="162.1" x2="292.56" y2="185.9" stroke="#4e4e4e" stroke-width="1.45" />
<line x1="291.36" y1="162.1" x2="293.76" y2="162.1" stroke="#1a1a1a" stroke-width="1.5" />
<line x1="291.36" y1="185.9" x2="293.76" y2="185.9" stroke="#1a1a1a" stroke-width="1.5" />
<line x1="307.6" y1="175.0" x2="307.6" y2="198.2" stroke="#4e4e4e" stroke-width="1.45" />
<line x1="306.4" y1="175.0" x2="308.8" y2="175.0" stroke="#1a1a1a" stroke-width="1.5" />
<line x1="306.4" y1="198.2" x2="308.8" y2="198.2" stroke="#1a1a1a" stroke-width="1.5" />
<line x1="322.64" y1="182.9" x2="322.64" y2="207.5" stroke="#4e4e4e" stroke-width="1.45" />
<line x1="321.44" y1="182.9" x2="323.84" y2="182.9" stroke="#1a1a1a" stroke-width="1.5" />
<line x1="321.44" y1="207.5" x2="323.84" y2="207.5" stroke="#1a1a1a" stroke-width="1.5" />
<line x1="337.68" y1="189.2" x2="337.68" y2="216.2" stroke="#4e4e4e" stroke-width="1.45" />
<line x1="336.48" y1="189.2" x2="338.88" y2="189.2" stroke="#1a1a1a" stroke-width="1.5" />
<line x1="336.48" y1="216.2" x2="338.88" y2="216.2" stroke="#1a1a1a" stroke-width="1.5" />
<line x1="352.72" y1="196" x2="352.72" y2="222" stroke="#4e4e4e" stroke-width="1.45" />
<line x1="351.52" y1="196" x2="353.92" y2="196" stroke="#1a1a1a" stroke-width="1.5" />
<line x1="351.52" y1="222" x2="353.92" y2="222" stroke="#1a1a1a" stroke-width="1.5" />
<line x1="367.76" y1="198.3" x2="367.76" y2="229.3" stroke="#4e4e4e" stroke-width="1.45" />
<line x1="366.56" y1="198.3" x2="368.96" y2="198.3" stroke="#1a1a1a" stroke-width="1.5" />
<line x1="366.56" y1="229.3" x2="368.96" y2="229.3" stroke="#1a1a1a" stroke-width="1.5" />
<line x1="382.8" y1="181.5" x2="382.8" y2="212.7" stroke="#4e4e4e" stroke-width="1.45" />
<line x1="381.6" y1="181.5" x2="384.0" y2="181.5" stroke="#1a1a1a" stroke-width="1.5" />
<line x1="381.6" y1="212.7" x2="384.0" y2="212.7" stroke="#1a1a1a" stroke-width="1.5" />
<line x1="397.84" y1="99.3" x2="397.84" y2="131.3" stroke="#4e4e4e" stroke-width="1.45" />
<line x1="396.64" y1="99.3" x2="399.04" y2="99.3" stroke="#1a1a1a" stroke-width="1.5" />
<line x1="396.64" y1="131.3" x2="399.04" y2="131.3" stroke="#1a1a1a" stroke-width="1.5" />
<line x1="412.88" y1="74.1" x2="412.88" y2="107.7" stroke="#4e4e4e" stroke-width="1.45" />
<line x1="411.68" y1="74.1" x2="414.08" y2="74.1" stroke="#1a1a1a" stroke-width="1.5" />
<line x1="411.68" y1="107.7" x2="414.08" y2="107.7" stroke="#1a1a1a" stroke-width="1.5" />
<line x1="427.92" y1="71.4" x2="427.92" y2="109.0" stroke="#4e4e4e" stroke-width="1.45" />
<line x1="426.72" y1="71.4" x2="429.12" y2="71.4" stroke="#1a1a1a" stroke-width="1.5" />
<line x1="426.72" y1="109.0" x2="429.12" y2="109.0" stroke="#1a1a1a" stroke-width="1.5" />
<line x1="442.96" y1="73.6" x2="442.96" y2="112.6" stroke="#4e4e4e" stroke-width="1.45" />
<line x1="441.76" y1="73.6" x2="444.16" y2="73.6" stroke="#1a1a1a" stroke-width="1.5" />
<line x1="441.76" y1="112.6" x2="444.16" y2="112.6" stroke="#1a1a1a" stroke-width="1.5" />
<line x1="458.0" y1="83.5" x2="458.0" y2="119.1" stroke="#4e4e4e" stroke-width="1.45" />
<line x1="456.8" y1="83.5" x2="459.2" y2="83.5" stroke="#1a1a1a" stroke-width="1.5" />
<line x1="456.8" y1="119.1" x2="459.2" y2="119.1" stroke="#1a1a1a" stroke-width="1.5" />
<line x1="473.04" y1="93.6" x2="473.04" y2="128.0" stroke="#4e4e4e" stroke-width="1.45" />
<line x1="471.84" y1="93.6" x2="474.24" y2="93.6" stroke="#1a1a1a" stroke-width="1.5" />
<line x1="471.84" y1="128.0" x2="474.24" y2="128.0" stroke="#1a1a1a" stroke-width="1.5" />
<line x1="488.08" y1="103.9" x2="488.08" y2="136.7" stroke="#4e4e4e" stroke-width="1.45" />
<line x1="486.88" y1="103.9" x2="489.28" y2="103.9" stroke="#1a1a1a" stroke-width="1.5" />
<line x1="486.88" y1="136.7" x2="489.28" y2="136.7" stroke="#1a1a1a" stroke-width="1.5" />
<line x1="503.12" y1="121.3" x2="503.12" y2="154.3" stroke="#4e4e4e" stroke-width="1.45" />
<line x1="501.92" y1="121.3" x2="504.32" y2="121.3" stroke="#1a1a1a" stroke-width="1.5" />
<line x1="501.92" y1="154.3" x2="504.32" y2="154.3" stroke="#1a1a1a" stroke-width="1.5" />
<line x1="518.16" y1="157.5" x2="518.16" y2="188.5" stroke="#4e4e4e" stroke-width="1.45" />
<line x1="516.96" y1="157.5" x2="519.36" y2="157.5" stroke="#1a1a1a" stroke-width="1.5" />
<line x1="516.96" y1="188.5" x2="519.36" y2="188.5" stroke="#1a1a1a" stroke-width="1.5" />
<line x1="533.2" y1="180.2" x2="533.2" y2="207.8" stroke="#4e4e4e" stroke-width="1.45" />
<line x1="532.0" y1="180.2" x2="534.4" y2="180.2" stroke="#1a1a1a" stroke-width="1.5" />
<line x1="532.0" y1="207.8" x2="534.4" y2="207.8" stroke="#1a1a1a" stroke-width="1.5" />
<line x1="548.24" y1="190.9" x2="548.24" y2="221.3" stroke="#4e4e4e" stroke-width="1.45" />
<line x1="547.04" y1="190.9" x2="549.44" y2="190.9" stroke="#1a1a1a" stroke-width="1.5" />
<line x1="547.04" y1="221.3" x2="549.44" y2="221.3" stroke="#1a1a1a" stroke-width="1.5" />
<line x1="563.28" y1="198.0" x2="563.28" y2="228.4" stroke="#4e4e4e" stroke-width="1.45" />
<line x1="562.08" y1="198.0" x2="564.48" y2="198.0" stroke="#1a1a1a" stroke-width="1.5" />
<line x1="562.08" y1="228.4" x2="564.48" y2="228.4" stroke="#1a1a1a" stroke-width="1.5" />
<line x1="578.32" y1="202.0" x2="578.32" y2="233.8" stroke="#4e4e4e" stroke-width="1.45" />
<line x1="577.12" y1="202.0" x2="579.52" y2="202.0" stroke="#1a1a1a" stroke-width="1.5" />
<line x1="577.12" y1="233.8" x2="579.52" y2="233.8" stroke="#1a1a1a" stroke-width="1.5" />
<line x1="593.36" y1="206.4" x2="593.36" y2="238.6" stroke="#4e4e4e" stroke-width="1.45" />
<line x1="592.16" y1="206.4" x2="594.56" y2="206.4" stroke="#1a1a1a" stroke-width="1.5" />
<line x1="592.16" y1="238.6" x2="594.56" y2="238.6" stroke="#1a1a1a" stroke-width="1.5" />
<line x1="608.4" y1="209.1" x2="608.4" y2="242.1" stroke="#4e4e4e" stroke-width="1.45" />
<line x1="607.2" y1="209.1" x2="609.6" y2="209.1" stroke="#1a1a1a" stroke-width="1.5" />
<line x1="607.2" y1="242.1" x2="609.6" y2="242.1" stroke="#1a1a1a" stroke-width="1.5" />
<line x1="623.44" y1="211.9" x2="623.44" y2="246.1" stroke="#4e4e4e" stroke-width="1.45" />
<line x1="622.24" y1="211.9" x2="624.64" y2="211.9" stroke="#1a1a1a" stroke-width="1.5" />
<line x1="622.24" y1="246.1" x2="624.64" y2="246.1" stroke="#1a1a1a" stroke-width="1.5" />
<line x1="638.48" y1="212.4" x2="638.48" y2="248.2" stroke="#4e4e4e" stroke-width="1.45" />
<line x1="637.28" y1="212.4" x2="639.68" y2="212.4" stroke="#1a1a1a" stroke-width="1.5" />
<line x1="637.28" y1="248.2" x2="639.68" y2="248.2" stroke="#1a1a1a" stroke-width="1.5" />
<line x1="653.52" y1="213.0" x2="653.52" y2="250.6" stroke="#4e4e4e" stroke-width="1.45" />
<line x1="652.32" y1="213.0" x2="654.72" y2="213.0" stroke="#1a1a1a" stroke-width="1.5" />
<line x1="652.32" y1="250.6" x2="654.72" y2="250.6" stroke="#1a1a1a" stroke-width="1.5" />
<line x1="668.56" y1="214.8" x2="668.56" y2="254.2" stroke="#4e4e4e" stroke-width="1.45" />
<line x1="667.36" y1="214.8" x2="669.76" y2="214.8" stroke="#1a1a1a" stroke-width="1.5" />
<line x1="667.36" y1="254.2" x2="669.76" y2="254.2" stroke="#1a1a1a" stroke-width="1.5" />
<polyline points="82.00,216.6 97.04,217.1 112.08,217.3 127.12,218 142.16,219.1 157.20,218.6 172.24,219.3 187.28,220.2 202.32,243.6 217.36,242.5 232.40,244.9 247.44,244 262.48,244.5 277.52,244.7 292.56,245.5 307.60,246.2 322.64,239.6 337.68,250.7 352.72,251.3 367.76,251.8 382.80,241.8 397.84,214 412.88,201.9 427.92,198.2 442.96,197.1 458.00,197.1 473.04,197.5 488.08,198.2 503.12,207 518.16,219 533.20,227.6 548.24,233.1 563.28,236.6 578.32,238.8 593.36,242.8 608.40,245.8 623.44,249.5 638.48,251.2 653.52,253.3 668.56,255.3" fill="none" stroke="#a3a3a3" stroke-width="1.95" stroke-linejoin="round" stroke-linecap="round"/>
<polyline points="82.00,194.6 97.04,197.2 112.08,196 127.12,196.4 142.16,195.5 157.20,195.1 172.24,195.9 187.28,196.3 202.32,218 217.36,215.6 232.40,213.8 247.44,217.1 262.48,223.5 277.52,227.7 292.56,235.8 307.60,236.7 322.64,240.7 337.68,244.7 352.72,247.3 367.76,249.6 382.80,232.3 397.84,181.2 412.88,161.9 427.92,160.8 442.96,163 458.00,164.5 473.04,166.9 488.08,169.4 503.12,181 518.16,201.7 533.20,217.2 548.24,218.7 563.28,224.5 578.32,227.6 593.36,230.3 608.40,233.5 623.44,236.2 638.48,238.5 653.52,239.6 668.56,241.8" fill="none" stroke="#e8762e" stroke-width="1.95" stroke-linejoin="round" stroke-linecap="round"/>
<polyline points="82.00,151 97.04,160.1 112.08,162.3 127.12,164.3 142.16,163.4 157.20,165.6 172.24,165.9 187.28,165.9 202.32,200.5 217.36,198.3 232.40,197.6 247.44,199.6 262.48,204.9 277.52,209.3 292.56,214 307.60,219.2 322.64,223 337.68,226.8 352.72,229.2 367.76,232.5 382.80,211.4 397.84,157 412.88,148.8 427.92,146.6 442.96,149.4 458.00,153.9 473.04,159 488.08,164.5 503.12,181.5 518.16,205 533.20,220.5 548.24,228.2 563.28,234.2 578.32,237.5 593.36,241.8 608.40,245 623.44,248.8 638.48,250.2 653.52,252.4 668.56,254.4" fill="none" stroke="#ebbd33" stroke-width="1.95" stroke-linejoin="round" stroke-linecap="round"/>
<polyline points="82.00,110.8 97.04,109.5 112.08,108.4 127.12,106.4 142.16,107.7 157.20,111.7 172.24,110.8 187.28,112.4 202.32,142.4 217.36,139.1 232.40,138.8 247.44,145.2 262.48,154.1 277.52,164.5 292.56,174 307.60,186.6 322.64,195.2 337.68,202.7 352.72,209 367.76,213.8 382.80,197.1 397.84,115.3 412.88,90.9 427.92,90.2 442.96,93.1 458.00,101.3 473.04,110.8 488.08,120.3 503.12,137.8 518.16,173 533.20,194 548.24,206.1 563.28,213.2 578.32,217.9 593.36,222.5 608.40,225.6 623.44,229 638.48,230.3 653.52,231.8 668.56,234.5" fill="none" stroke="#4a74ca" stroke-width="1.95" stroke-linejoin="round" stroke-linecap="round"/>
<line x1="567" y1="57.65" x2="579" y2="57.65" stroke="#4a74ca" stroke-width="1.8" />
<line x1="572.7" y1="55.85" x2="572.7" y2="59.449999999999996" stroke="#4a74ca" stroke-width="1.4" />
<text x="587.8" y="58.699999999999996" font-size="5.2" font-weight="bold" text-anchor="start" >Untreated</text>
<line x1="567" y1="73.65" x2="579" y2="73.65" stroke="#e8762e" stroke-width="1.8" />
<line x1="572.7" y1="71.85000000000001" x2="572.7" y2="75.45" stroke="#e8762e" stroke-width="1.4" />
<text x="587.8" y="74.7" font-size="5.2" font-weight="bold" text-anchor="start" >Ndufb7 tMO</text>
<line x1="567" y1="89.65" x2="579" y2="89.65" stroke="#a3a3a3" stroke-width="1.8" />
<line x1="572.7" y1="87.85000000000001" x2="572.7" y2="91.45" stroke="#a3a3a3" stroke-width="1.4" />
<text x="587.8" y="90.7" font-size="5.2" font-weight="bold" text-anchor="start" >Ndufb7 (tMO+RNA)</text>
<line x1="567" y1="105.65" x2="579" y2="105.65" stroke="#ebbd33" stroke-width="1.8" />
<line x1="572.7" y1="103.85000000000001" x2="572.7" y2="107.45" stroke="#ebbd33" stroke-width="1.4" />
<text x="587.8" y="106.7" font-size="5.2" font-weight="bold" text-anchor="start" >Ndufb7 (tMO+MitoQ)</text>
<text x="6.8999999999999995" y="374.1" font-size="30.6" font-weight="bold" text-anchor="start" style="stroke-width:0.5px">B</text>
<text x="0" y="0" font-size="7.9" font-weight="bold" text-anchor="middle" transform="translate(138.5,384.9) scale(1,1.1)" style="stroke-width:0.38px">Basal respiration</text>
<line x1="66.8" y1="402.19999999999993" x2="66.8" y2="579.1999999999999" stroke="#000" stroke-width="1.8" />
<line x1="62.5" y1="578.3" x2="66.8" y2="578.3" stroke="#000" stroke-width="1.5" />
<text x="61.8" y="580.8" font-size="7.1" font-weight="bold" text-anchor="end" >0</text>
<line x1="62.5" y1="519.8" x2="66.8" y2="519.8" stroke="#000" stroke-width="1.5" />
<text x="61.6" y="522.3" font-size="7.1" font-weight="bold" text-anchor="end" >50</text>
<line x1="62.5" y1="461.29999999999995" x2="66.8" y2="461.29999999999995" stroke="#000" stroke-width="1.5" />
<text x="61.6" y="463.79999999999995" font-size="7.1" font-weight="bold" text-anchor="end" >100</text>
<line x1="62.5" y1="402.79999999999995" x2="66.8" y2="402.79999999999995" stroke="#000" stroke-width="1.5" />
<text x="59.4" y="405.29999999999995" font-size="7.1" font-weight="bold" text-anchor="end" >150</text>
<line x1="65.89999999999999" y1="578.3" x2="204.2" y2="578.3" stroke="#000" stroke-width="1.8" />
<line x1="84.4" y1="578.3" x2="84.4" y2="582.8" stroke="#000" stroke-width="1.5" />
<line x1="118.3" y1="578.3" x2="118.3" y2="582.8" stroke="#000" stroke-width="1.5" />
<line x1="152.2" y1="578.3" x2="152.2" y2="582.8" stroke="#000" stroke-width="1.5" />
<line x1="186.4" y1="578.3" x2="186.4" y2="582.8" stroke="#000" stroke-width="1.5" />
<text x="0" y="0" font-size="8.4" font-weight="bold" text-anchor="middle" transform="translate(38.6,490.5) rotate(-90)">OCR (pmol/min)</text>
<rect x="73.2" y="481.8" width="22.30" height="96.50" fill="#fff" stroke="#000" stroke-width="1.75"/>
<rect x="107.4" y="543" width="22.20" height="35.30" fill="#fff" stroke="#000" stroke-width="1.75"/>
<rect x="141.1" y="551.3" width="22.10" height="27.00" fill="#fff" stroke="#000" stroke-width="1.75"/>
<rect x="175.3" y="508.9" width="22.10" height="69.40" fill="#fff" stroke="#000" stroke-width="1.75"/>
<line x1="84.3" y1="468.4" x2="84.3" y2="495.4" stroke="#3a3a3a" stroke-width="1.05" />
<line x1="78.8" y1="468.4" x2="89.8" y2="468.4" stroke="#3a3a3a" stroke-width="1.05" />
<line x1="78.8" y1="495.4" x2="89.8" y2="495.4" stroke="#3a3a3a" stroke-width="1.05" />
<line x1="118.4" y1="537.4" x2="118.4" y2="547.3" stroke="#3a3a3a" stroke-width="1.05" />
<line x1="112.9" y1="537.4" x2="123.9" y2="537.4" stroke="#3a3a3a" stroke-width="1.05" />
<line x1="112.9" y1="547.3" x2="123.9" y2="547.3" stroke="#3a3a3a" stroke-width="1.05" />
<line x1="152.3" y1="542.3" x2="152.3" y2="559.5" stroke="#3a3a3a" stroke-width="1.05" />
<line x1="146.8" y1="542.3" x2="157.8" y2="542.3" stroke="#3a3a3a" stroke-width="1.05" />
<line x1="146.8" y1="559.5" x2="157.8" y2="559.5" stroke="#3a3a3a" stroke-width="1.05" />
<line x1="186.3" y1="504.9" x2="186.3" y2="512.4" stroke="#3a3a3a" stroke-width="1.05" />
<line x1="180.8" y1="504.9" x2="191.8" y2="504.9" stroke="#3a3a3a" stroke-width="1.05" />
<line x1="180.8" y1="512.4" x2="191.8" y2="512.4" stroke="#3a3a3a" stroke-width="1.05" />
<circle cx="84.2" cy="455.5" r="2.4" fill="#000"/>
<circle cx="84.2" cy="490.5" r="2.4" fill="#000"/>
<circle cx="84.2" cy="499.8" r="2.4" fill="#000"/>
<rect x="115.90" y="529.90" width="5.2" height="5.2" fill="#000"/>
<rect x="119.20" y="542.10" width="5.2" height="5.2" fill="#000"/>
<rect x="111.70" y="548.50" width="5.2" height="5.2" fill="#000"/>
<path d="M152.3,534.6 L155.10000000000002,539.6 L149.5,539.6 Z" fill="#000"/>
<path d="M152.3,547.2 L155.10000000000002,552.2 L149.5,552.2 Z" fill="#000"/>
<path d="M152.3,564.5 L155.10000000000002,569.5 L149.5,569.5 Z" fill="#000"/>
<path d="M186.6,504.1 L189.4,499.1 L183.79999999999998,499.1 Z" fill="#000"/>
<path d="M182.2,516.3 L185.0,511.3 L179.39999999999998,511.3 Z" fill="#000"/>
<path d="M189.3,513.6 L192.10000000000002,508.6 L186.5,508.6 Z" fill="#000"/>
<polyline points="83.5,442.6 83.5,402.2 188.6,402.2 188.6,409" fill="none" stroke="#000" stroke-width="1.2"/>
<polyline points="83.5,412.5 148,412.5 148,419.9" fill="none" stroke="#000" stroke-width="1.2"/>
<polyline points="83.5,431.4 116.4,431.4" fill="none" stroke="#000" stroke-width="1.2"/>
<polyline points="116.4,479.2 116.4,426.5 188.6,426.5 188.6,434" fill="none" stroke="#000" stroke-width="1.2"/>
<polyline points="116.4,443.2 153.5,443.2 153.5,459.3" fill="none" stroke="#000" stroke-width="1.2"/>
<polyline points="153.5,445.1 188.6,445.1 188.6,479.2" fill="none" stroke="#000" stroke-width="1.2"/>
<text x="137.1" y="399.50" font-size="8.3" text-anchor="middle">NS</text>
<path d="M115.10,406.35 L115.75,407.66 L117.19,407.87 L116.15,408.89 L116.39,410.33 L115.10,409.65 L113.81,410.33 L114.05,408.89 L113.01,407.87 L114.45,407.66 Z M119.70,406.35 L120.35,407.66 L121.79,407.87 L120.75,408.89 L120.99,410.33 L119.70,409.65 L118.41,410.33 L118.65,408.89 L117.61,407.87 L119.05,407.66 Z" fill="#000"/>
<path d="M99.90,425.05 L100.55,426.36 L101.99,426.57 L100.95,427.59 L101.19,429.03 L99.90,428.35 L98.61,429.03 L98.85,427.59 L97.81,426.57 L99.25,426.36 Z M104.50,425.05 L105.15,426.36 L106.59,426.57 L105.55,427.59 L105.79,429.03 L104.50,428.35 L103.21,429.03 L103.45,427.59 L102.41,426.57 L103.85,426.36 Z" fill="#000"/>
<path d="M150.60,421.15 L151.25,422.46 L152.69,422.67 L151.65,423.69 L151.89,425.13 L150.60,424.45 L149.31,425.13 L149.55,423.69 L148.51,422.67 L149.95,422.46 Z M155.20,421.15 L155.85,422.46 L157.29,422.67 L156.25,423.69 L156.49,425.13 L155.20,424.45 L153.91,425.13 L154.15,423.69 L153.11,422.67 L154.55,422.46 Z" fill="#000"/>
<text x="133.2" y="442.40" font-size="8.3" text-anchor="middle">NS</text>
<path d="M167.70,439.15 L168.35,440.46 L169.79,440.67 L168.75,441.69 L168.99,443.13 L167.70,442.45 L166.41,443.13 L166.65,441.69 L165.61,440.67 L167.05,440.46 Z M172.30,439.15 L172.95,440.46 L174.39,440.67 L173.35,441.69 L173.59,443.13 L172.30,442.45 L171.01,443.13 L171.25,441.69 L170.21,440.67 L171.65,440.46 Z" fill="#000"/>
<text x="0" y="0" font-size="8.05" text-anchor="end" style="stroke-width:0.3px" transform="translate(62.8,595.8) scale(1,1.18)">Ndufb7 tMO (ng)</text>
<rect x="82.35" y="592.10" width="3.9" height="1.25" fill="#000"/>
<text x="0" y="0" font-size="8.6" text-anchor="middle" style="stroke-width:0.3px" transform="translate(119.6,595.3) scale(1,1.12)">5</text>
<text x="0" y="0" font-size="8.6" text-anchor="middle" style="stroke-width:0.3px" transform="translate(153.3,595.3) scale(1,1.12)">5</text>
<text x="0" y="0" font-size="8.6" text-anchor="middle" style="stroke-width:0.3px" transform="translate(186.5,595.3) scale(1,1.12)">5</text>
<text x="0" y="0" font-size="8.05" text-anchor="end" style="stroke-width:0.3px" transform="translate(62.8,611.8) scale(1,1.18)">Ndufb7 RNA (pg)</text>
<rect x="82.35" y="607.70" width="3.9" height="1.25" fill="#000"/>
<rect x="117.65" y="607.70" width="3.9" height="1.25" fill="#000"/>
<text x="0" y="0" font-size="8.6" text-anchor="middle" style="stroke-width:0.3px" transform="translate(153.3,611.3) scale(1,1.12)">5</text>
<rect x="184.55" y="607.70" width="3.9" height="1.25" fill="#000"/>
<text x="0" y="0" font-size="8.05" text-anchor="end" style="stroke-width:0.3px" transform="translate(62.8,628.5) scale(1,1.18)">MitoQ (µM)</text>
<rect x="82.35" y="624.70" width="3.9" height="1.25" fill="#000"/>
<rect x="117.65" y="624.70" width="3.9" height="1.25" fill="#000"/>
<rect x="151.35" y="624.70" width="3.9" height="1.25" fill="#000"/>
<text x="0" y="0" font-size="8.6" text-anchor="middle" style="stroke-width:0.3px" transform="translate(186.5,627.2) scale(1,1.12)">20</text>
<text x="243.5" y="373.9" font-size="30.6" font-weight="bold" text-anchor="start" style="stroke-width:0.5px">C</text>
<text x="0" y="0" font-size="7.9" font-weight="bold" text-anchor="middle" transform="translate(374.1,386.6) scale(1,1.1)" style="stroke-width:0.38px">Maximal respiration</text>
<line x1="306.3" y1="405.2" x2="306.3" y2="581.4" stroke="#000" stroke-width="1.8" />
<line x1="302.0" y1="580.5" x2="306.3" y2="580.5" stroke="#000" stroke-width="1.5" />
<text x="299.6" y="583.0" font-size="7.1" font-weight="bold" text-anchor="end" >0</text>
<line x1="302.0" y1="522.2666666666667" x2="306.3" y2="522.2666666666667" stroke="#000" stroke-width="1.5" />
<text x="300.6" y="524.7666666666667" font-size="7.1" font-weight="bold" text-anchor="end" >50</text>
<line x1="302.0" y1="464.03333333333336" x2="306.3" y2="464.03333333333336" stroke="#000" stroke-width="1.5" />
<text x="300.6" y="466.53333333333336" font-size="7.1" font-weight="bold" text-anchor="end" >100</text>
<line x1="302.0" y1="405.8" x2="306.3" y2="405.8" stroke="#000" stroke-width="1.5" />
<text x="298.6" y="408.3" font-size="7.1" font-weight="bold" text-anchor="end" >150</text>
<line x1="305.40000000000003" y1="580.5" x2="443.8" y2="580.5" stroke="#000" stroke-width="1.8" />
<line x1="323.2" y1="580.5" x2="323.2" y2="585.0" stroke="#000" stroke-width="1.5" />
<line x1="357.5" y1="580.5" x2="357.5" y2="585.0" stroke="#000" stroke-width="1.5" />
<line x1="391.8" y1="580.5" x2="391.8" y2="585.0" stroke="#000" stroke-width="1.5" />
<line x1="426.5" y1="580.5" x2="426.5" y2="585.0" stroke="#000" stroke-width="1.5" />
<text x="0" y="0" font-size="8.4" font-weight="bold" text-anchor="middle" transform="translate(277.4,493.2) rotate(-90)">OCR (pmol/min)</text>
<rect x="312" y="465.9" width="22.50" height="114.60" fill="#fff" stroke="#000" stroke-width="1.75"/>
<rect x="346.6" y="515" width="22.10" height="65.50" fill="#fff" stroke="#000" stroke-width="1.75"/>
<rect x="381" y="534.7" width="22.00" height="45.80" fill="#fff" stroke="#000" stroke-width="1.75"/>
<rect x="415.1" y="494" width="22.10" height="86.50" fill="#fff" stroke="#000" stroke-width="1.75"/>
<line x1="323.2" y1="459.3" x2="323.2" y2="472.5" stroke="#3a3a3a" stroke-width="1.05" />
<line x1="317.7" y1="459.3" x2="328.7" y2="459.3" stroke="#3a3a3a" stroke-width="1.05" />
<line x1="317.7" y1="472.5" x2="328.7" y2="472.5" stroke="#3a3a3a" stroke-width="1.05" />
<line x1="357.6" y1="509.7" x2="357.6" y2="519.7" stroke="#3a3a3a" stroke-width="1.05" />
<line x1="352.1" y1="509.7" x2="363.1" y2="509.7" stroke="#3a3a3a" stroke-width="1.05" />
<line x1="352.1" y1="519.7" x2="363.1" y2="519.7" stroke="#3a3a3a" stroke-width="1.05" />
<line x1="391.9" y1="526.3" x2="391.9" y2="542.5" stroke="#3a3a3a" stroke-width="1.05" />
<line x1="386.4" y1="526.3" x2="397.4" y2="526.3" stroke="#3a3a3a" stroke-width="1.05" />
<line x1="386.4" y1="542.5" x2="397.4" y2="542.5" stroke="#3a3a3a" stroke-width="1.05" />
<line x1="426.1" y1="484.3" x2="426.1" y2="503.1" stroke="#3a3a3a" stroke-width="1.05" />
<line x1="420.6" y1="484.3" x2="431.6" y2="484.3" stroke="#3a3a3a" stroke-width="1.05" />
<line x1="420.6" y1="503.1" x2="431.6" y2="503.1" stroke="#3a3a3a" stroke-width="1.05" />
<circle cx="323.2" cy="452.2" r="2.4" fill="#000"/>
<circle cx="319.4" cy="473.2" r="2.4" fill="#000"/>
<circle cx="327.6" cy="472.1" r="2.4" fill="#000"/>
<rect x="351.10" y="504.30" width="5.2" height="5.2" fill="#000"/>
<rect x="358.90" y="511.60" width="5.2" height="5.2" fill="#000"/>
<rect x="354.90" y="520.40" width="5.2" height="5.2" fill="#000"/>
<path d="M391.8,516.9000000000001 L394.6,521.9000000000001 L389.0,521.9000000000001 Z" fill="#000"/>
<path d="M388,540.8000000000001 L390.8,545.8000000000001 L385.2,545.8000000000001 Z" fill="#000"/>
<path d="M396.2,538.6 L399.0,543.6 L393.4,543.6 Z" fill="#000"/>
<path d="M426,477.8 L428.8,472.8 L423.2,472.8 Z" fill="#000"/>
<path d="M426,499.90000000000003 L428.8,494.90000000000003 L423.2,494.90000000000003 Z" fill="#000"/>
<path d="M426,509.90000000000003 L428.8,504.90000000000003 L423.2,504.90000000000003 Z" fill="#000"/>
<polyline points="322.2,443.4 322.2,403.3 426.9,403.3 426.9,410.5" fill="none" stroke="#000" stroke-width="1.2"/>
<polyline points="322.2,413.8 386.3,413.8 386.3,420.8" fill="none" stroke="#000" stroke-width="1.2"/>
<polyline points="322.2,432.4 355,432.4" fill="none" stroke="#000" stroke-width="1.2"/>
<polyline points="355,472.7 355,428 426.9,428 426.9,435" fill="none" stroke="#000" stroke-width="1.2"/>
<polyline points="355,444.4 391.8,444.4 391.8,459.8" fill="none" stroke="#000" stroke-width="1.2"/>
<polyline points="391.8,446.2 426.9,446.2 426.9,465.2" fill="none" stroke="#000" stroke-width="1.2"/>
<text x="375" y="400.90" font-size="8.3" text-anchor="middle">NS</text>
<path d="M350.70,407.95 L351.35,409.26 L352.79,409.47 L351.75,410.49 L351.99,411.93 L350.70,411.25 L349.41,411.93 L349.65,410.49 L348.61,409.47 L350.05,409.26 Z M355.30,407.95 L355.95,409.26 L357.39,409.47 L356.35,410.49 L356.59,411.93 L355.30,411.25 L354.01,411.93 L354.25,410.49 L353.21,409.47 L354.65,409.26 Z" fill="#000"/>
<path d="M338.50,426.45 L339.15,427.76 L340.59,427.97 L339.55,428.99 L339.79,430.43 L338.50,429.75 L337.21,430.43 L337.45,428.99 L336.41,427.97 L337.85,427.76 Z M343.10,426.45 L343.75,427.76 L345.19,427.97 L344.15,428.99 L344.39,430.43 L343.10,429.75 L341.81,430.43 L342.05,428.99 L341.01,427.97 L342.45,427.76 Z" fill="#000"/>
<path d="M390.20,422.05 L390.85,423.36 L392.29,423.57 L391.25,424.59 L391.49,426.03 L390.20,425.35 L388.91,426.03 L389.15,424.59 L388.11,423.57 L389.55,423.36 Z M394.80,422.05 L395.45,423.36 L396.89,423.57 L395.85,424.59 L396.09,426.03 L394.80,425.35 L393.51,426.03 L393.75,424.59 L392.71,423.57 L394.15,423.36 Z" fill="#000"/>
<text x="371.5" y="443.50" font-size="8.3" text-anchor="middle">NS</text>
<path d="M404.80,439.15 L405.45,440.46 L406.89,440.67 L405.85,441.69 L406.09,443.13 L404.80,442.45 L403.51,443.13 L403.75,441.69 L402.71,440.67 L404.15,440.46 Z M409.40,439.15 L410.05,440.46 L411.49,440.67 L410.45,441.69 L410.69,443.13 L409.40,442.45 L408.11,443.13 L408.35,441.69 L407.31,440.67 L408.75,440.46 Z" fill="#000"/>
<text x="0" y="0" font-size="8.05" text-anchor="end" style="stroke-width:0.3px" transform="translate(301.1,596.9) scale(1,1.18)">Ndufb7 tMO (ng)</text>
<rect x="321.65" y="593.30" width="3.9" height="1.25" fill="#000"/>
<text x="0" y="0" font-size="8.6" text-anchor="middle" style="stroke-width:0.3px" transform="translate(358.9,596.9) scale(1,1.12)">5</text>
<text x="0" y="0" font-size="8.6" text-anchor="middle" style="stroke-width:0.3px" transform="translate(393,596.9) scale(1,1.12)">5</text>
<text x="0" y="0" font-size="8.6" text-anchor="middle" style="stroke-width:0.3px" transform="translate(426.7,596.9) scale(1,1.12)">5</text>
<text x="0" y="0" font-size="8.05" text-anchor="end" style="stroke-width:0.3px" transform="translate(301.1,612.9) scale(1,1.18)">Ndufb7 RNA (pg)</text>
<rect x="321.65" y="609.20" width="3.9" height="1.25" fill="#000"/>
<rect x="356.95" y="609.20" width="3.9" height="1.25" fill="#000"/>
<text x="0" y="0" font-size="8.6" text-anchor="middle" style="stroke-width:0.3px" transform="translate(393,612.9) scale(1,1.12)">5</text>
<rect x="424.75" y="609.20" width="3.9" height="1.25" fill="#000"/>
<text x="0" y="0" font-size="8.05" text-anchor="end" style="stroke-width:0.3px" transform="translate(301.1,629.4) scale(1,1.18)">MitoQ (µM)</text>
<rect x="321.65" y="625.30" width="3.9" height="1.25" fill="#000"/>
<rect x="356.95" y="625.30" width="3.9" height="1.25" fill="#000"/>
<rect x="391.05" y="625.30" width="3.9" height="1.25" fill="#000"/>
<text x="0" y="0" font-size="8.6" text-anchor="middle" style="stroke-width:0.3px" transform="translate(426.7,628.8) scale(1,1.12)">20</text>
<text x="489.90000000000003" y="373.9" font-size="30.6" font-weight="bold" text-anchor="start" style="stroke-width:0.5px">D</text>
<text x="0" y="0" font-size="7.9" font-weight="bold" text-anchor="middle" transform="translate(616.5,386.4) scale(1,1.1)" style="stroke-width:0.38px">ATP production</text>
<line x1="547.2" y1="404.59999999999997" x2="547.2" y2="580.3" stroke="#000" stroke-width="1.8" />
<line x1="542.9000000000001" y1="579.4" x2="547.2" y2="579.4" stroke="#000" stroke-width="1.5" />
<text x="541.3" y="581.9" font-size="7.1" font-weight="bold" text-anchor="end" >0</text>
<line x1="542.9000000000001" y1="521.3333333333333" x2="547.2" y2="521.3333333333333" stroke="#000" stroke-width="1.5" />
<text x="541.9" y="523.8333333333333" font-size="7.1" font-weight="bold" text-anchor="end" >50</text>
<line x1="542.9000000000001" y1="463.26666666666665" x2="547.2" y2="463.26666666666665" stroke="#000" stroke-width="1.5" />
<text x="541.9" y="465.76666666666665" font-size="7.1" font-weight="bold" text-anchor="end" >100</text>
<line x1="542.9000000000001" y1="405.2" x2="547.2" y2="405.2" stroke="#000" stroke-width="1.5" />
<text x="539.8" y="407.7" font-size="7.1" font-weight="bold" text-anchor="end" >150</text>
<line x1="546.3000000000001" y1="579.4" x2="682.3" y2="579.4" stroke="#000" stroke-width="1.8" />
<line x1="563.8" y1="579.4" x2="563.8" y2="583.9" stroke="#000" stroke-width="1.5" />
<line x1="597.5" y1="579.4" x2="597.5" y2="583.9" stroke="#000" stroke-width="1.5" />
<line x1="631.1" y1="579.4" x2="631.1" y2="583.9" stroke="#000" stroke-width="1.5" />
<line x1="665" y1="579.4" x2="665" y2="583.9" stroke="#000" stroke-width="1.5" />
<text x="0" y="0" font-size="8.4" font-weight="bold" text-anchor="middle" transform="translate(519,492) rotate(-90)">OCR (pmol/min)</text>
<rect x="553.2" y="499.9" width="21.70" height="79.50" fill="#fff" stroke="#000" stroke-width="1.5"/>
<rect x="587" y="538.1" width="21.60" height="41.30" fill="#fff" stroke="#000" stroke-width="1.5"/>
<rect x="620.2" y="554.4" width="22.00" height="25.00" fill="#fff" stroke="#000" stroke-width="1.5"/>
<rect x="654.1" y="527.2" width="21.90" height="52.20" fill="#fff" stroke="#000" stroke-width="1.5"/>
<line x1="564.1" y1="488.3" x2="564.1" y2="510.3" stroke="#3a3a3a" stroke-width="1.05" />
<line x1="558.6" y1="488.3" x2="569.6" y2="488.3" stroke="#3a3a3a" stroke-width="1.05" />
<line x1="558.6" y1="510.3" x2="569.6" y2="510.3" stroke="#3a3a3a" stroke-width="1.05" />
<line x1="597.8" y1="534" x2="597.8" y2="540.8" stroke="#3a3a3a" stroke-width="1.05" />
<line x1="592.3" y1="534" x2="603.3" y2="534" stroke="#3a3a3a" stroke-width="1.05" />
<line x1="592.3" y1="540.8" x2="603.3" y2="540.8" stroke="#3a3a3a" stroke-width="1.05" />
<line x1="631.2" y1="544.7" x2="631.2" y2="563.3" stroke="#3a3a3a" stroke-width="1.05" />
<line x1="625.7" y1="544.7" x2="636.7" y2="544.7" stroke="#3a3a3a" stroke-width="1.05" />
<line x1="625.7" y1="563.3" x2="636.7" y2="563.3" stroke="#3a3a3a" stroke-width="1.05" />
<line x1="665" y1="519.7" x2="665" y2="534.5" stroke="#3a3a3a" stroke-width="1.05" />
<line x1="659.5" y1="519.7" x2="670.5" y2="519.7" stroke="#3a3a3a" stroke-width="1.05" />
<line x1="659.5" y1="534.5" x2="670.5" y2="534.5" stroke="#3a3a3a" stroke-width="1.05" />
<circle cx="563.8" cy="477.7" r="2.4" fill="#000"/>
<circle cx="560.3" cy="510.4" r="2.4" fill="#000"/>
<circle cx="567.6" cy="510.4" r="2.4" fill="#000"/>
<rect x="594.90" y="528.80" width="5.2" height="5.2" fill="#000"/>
<rect x="598.60" y="535.40" width="5.2" height="5.2" fill="#000"/>
<rect x="591.10" y="541.00" width="5.2" height="5.2" fill="#000"/>
<path d="M631.1,534.2 L633.9,539.2 L628.3000000000001,539.2 Z" fill="#000"/>
<path d="M631.1,554.9000000000001 L633.9,559.9000000000001 L628.3000000000001,559.9000000000001 Z" fill="#000"/>
<path d="M631.1,566.2 L633.9,571.2 L628.3000000000001,571.2 Z" fill="#000"/>
<path d="M661.2,519.8 L664.0,514.8 L658.4000000000001,514.8 Z" fill="#000"/>
<path d="M668.3,522.5 L671.0999999999999,517.5 L665.5,517.5 Z" fill="#000"/>
<path d="M664.3,544.5999999999999 L667.0999999999999,539.5999999999999 L661.5,539.5999999999999 Z" fill="#000"/>
<polyline points="561.7,446.6 561.7,406.8 665.3,406.8 665.3,413.4" fill="none" stroke="#000" stroke-width="1.2"/>
<polyline points="561.7,417.1 625.2,417.1 625.2,424.3" fill="none" stroke="#000" stroke-width="1.2"/>
<polyline points="561.7,435.3 593.9,435.3" fill="none" stroke="#000" stroke-width="1.2"/>
<polyline points="594.2,475.4 594.2,431.3 665.3,431.3 665.3,438.3" fill="none" stroke="#000" stroke-width="1.2"/>
<polyline points="594.2,447.3 630.7,447.3 630.7,463.7" fill="none" stroke="#000" stroke-width="1.2"/>
<polyline points="630.7,449.3 665.3,449.3 665.3,468.1" fill="none" stroke="#000" stroke-width="1.2"/>
<text x="614.3" y="404.70" font-size="8.3" text-anchor="middle">NS</text>
<path d="M590.50,411.05 L591.15,412.36 L592.59,412.57 L591.55,413.59 L591.79,415.03 L590.50,414.35 L589.21,415.03 L589.45,413.59 L588.41,412.57 L589.85,412.36 Z M595.10,411.05 L595.75,412.36 L597.19,412.57 L596.15,413.59 L596.39,415.03 L595.10,414.35 L593.81,415.03 L594.05,413.59 L593.01,412.57 L594.45,412.36 Z" fill="#000"/>
<path d="M577.00,429.65 L577.65,430.96 L579.09,431.17 L578.05,432.19 L578.29,433.63 L577.00,432.95 L575.71,433.63 L575.95,432.19 L574.91,431.17 L576.35,430.96 Z M581.60,429.65 L582.25,430.96 L583.69,431.17 L582.65,432.19 L582.89,433.63 L581.60,432.95 L580.31,433.63 L580.55,432.19 L579.51,431.17 L580.95,430.96 Z" fill="#000"/>
<path d="M629.10,424.45 L629.75,425.76 L631.19,425.97 L630.15,426.99 L630.39,428.43 L629.10,427.75 L627.81,428.43 L628.05,426.99 L627.01,425.97 L628.45,425.76 Z M633.70,424.45 L634.35,425.76 L635.79,425.97 L634.75,426.99 L634.99,428.43 L633.70,427.75 L632.41,428.43 L632.65,426.99 L631.61,425.97 L633.05,425.76 Z" fill="#000"/>
<text x="610.6" y="447.40" font-size="8.3" text-anchor="middle">NS</text>
<path d="M645.30,443.45 L645.95,444.76 L647.39,444.97 L646.35,445.99 L646.59,447.43 L645.30,446.75 L644.01,447.43 L644.25,445.99 L643.21,444.97 L644.65,444.76 Z M649.90,443.45 L650.55,444.76 L651.99,444.97 L650.95,445.99 L651.19,447.43 L649.90,446.75 L648.61,447.43 L648.85,445.99 L647.81,444.97 L649.25,444.76 Z" fill="#000"/>
<text x="0" y="0" font-size="7.85" text-anchor="end" style="stroke-width:0.3px" transform="translate(542.4,595.8) scale(1,1.18)">Ndufb7 tMO (ng)</text>
<rect x="561.85" y="592.20" width="3.9" height="1.25" fill="#000"/>
<text x="0" y="0" font-size="8.6" text-anchor="middle" style="stroke-width:0.3px" transform="translate(598.6,595.3) scale(1,1.12)">5</text>
<text x="0" y="0" font-size="8.6" text-anchor="middle" style="stroke-width:0.3px" transform="translate(631.5,595.3) scale(1,1.12)">5</text>
<text x="0" y="0" font-size="8.6" text-anchor="middle" style="stroke-width:0.3px" transform="translate(665.3,595.3) scale(1,1.12)">5</text>
<text x="0" y="0" font-size="7.85" text-anchor="end" style="stroke-width:0.3px" transform="translate(542.4,611.8) scale(1,1.18)">Ndufb7 RNA (pg)</text>
<rect x="561.85" y="608.00" width="3.9" height="1.25" fill="#000"/>
<rect x="596.65" y="608.00" width="3.9" height="1.25" fill="#000"/>
<text x="0" y="0" font-size="8.6" text-anchor="middle" style="stroke-width:0.3px" transform="translate(631.5,611.3) scale(1,1.12)">5</text>
<rect x="663.35" y="608.00" width="3.9" height="1.25" fill="#000"/>
<text x="0" y="0" font-size="7.85" text-anchor="end" style="stroke-width:0.3px" transform="translate(542.4,628.4) scale(1,1.18)">MitoQ (µM)</text>
<rect x="561.85" y="624.70" width="3.9" height="1.25" fill="#000"/>
<rect x="596.65" y="624.70" width="3.9" height="1.25" fill="#000"/>
<rect x="629.55" y="624.70" width="3.9" height="1.25" fill="#000"/>
<text x="0" y="0" font-size="8.6" text-anchor="middle" style="stroke-width:0.3px" transform="translate(665.3,627.5) scale(1,1.12)">20</text>
</svg></body></html>
